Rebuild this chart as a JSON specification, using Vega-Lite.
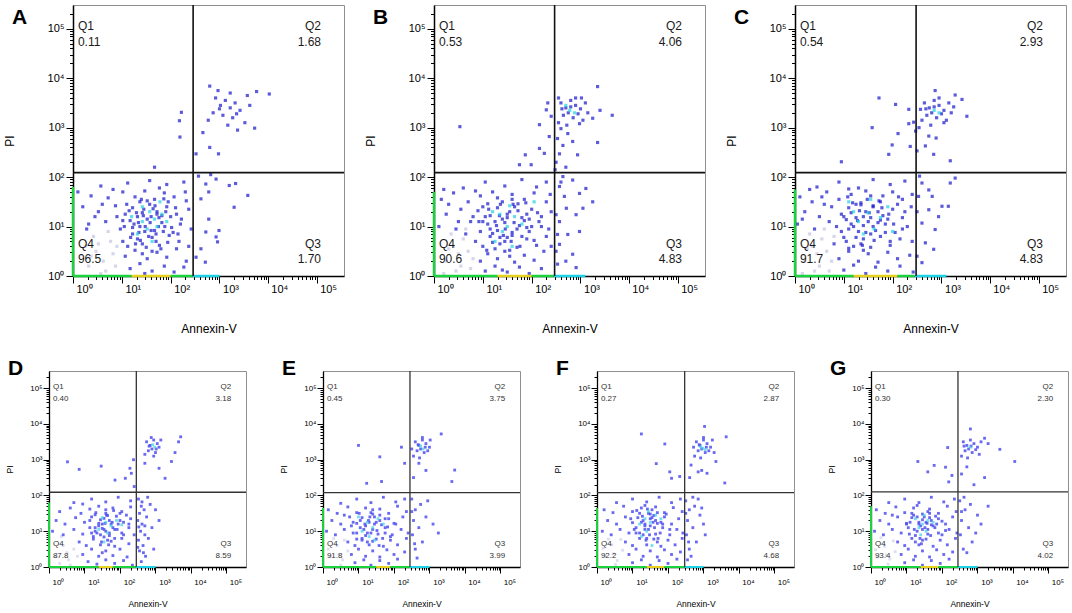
{
"$schema":"https://vega.github.io/schema/vega-lite/v6.json",
"background":"white",
"padding":{"left":-29,"top":-1,"right":2,"bottom":2},
"config":{"view":{"stroke":"#8f8f8f","strokeWidth":1},"font":"Liberation Sans",
"axis":{"grid":false,"domainColor":"#000","tickColor":"#000","labelColor":"#000","titleColor":"#000","titleFontWeight":"normal","labelOverlap":false,"labelFlush":false,"labelBound":false,"labelFont":"Liberation Sans","titleFont":"Liberation Sans"},
"title":{"font":"Liberation Sans"},"text":{"font":"Liberation Sans"}},
"datasets":{
"gate":[{"p":"A","x":2.46,"y":2.09},{"p":"B","x":2.47,"y":2.09},{"p":"C","x":2.48,"y":2.09},{"p":"D","x":2.46,"y":2.09},{"p":"E","x":2.45,"y":2.08},{"p":"F","x":2.47,"y":2.08},{"p":"G","x":2.45,"y":2.1}],
"quad":[
{"p":"A","q":"Q1","t":"Q1\n0.11"},{"p":"A","q":"Q2","t":"Q2\n1.68"},{"p":"A","q":"Q3","t":"Q3\n1.70"},{"p":"A","q":"Q4","t":"Q4\n96.5"},
{"p":"B","q":"Q1","t":"Q1\n0.53"},{"p":"B","q":"Q2","t":"Q2\n4.06"},{"p":"B","q":"Q3","t":"Q3\n4.83"},{"p":"B","q":"Q4","t":"Q4\n90.6"},
{"p":"C","q":"Q1","t":"Q1\n0.54"},{"p":"C","q":"Q2","t":"Q2\n2.93"},{"p":"C","q":"Q3","t":"Q3\n4.83"},{"p":"C","q":"Q4","t":"Q4\n91.7"},
{"p":"D","q":"Q1","t":"Q1\n0.40"},{"p":"D","q":"Q2","t":"Q2\n3.18"},{"p":"D","q":"Q3","t":"Q3\n8.59"},{"p":"D","q":"Q4","t":"Q4\n87.8"},
{"p":"E","q":"Q1","t":"Q1\n0.45"},{"p":"E","q":"Q2","t":"Q2\n3.75"},{"p":"E","q":"Q3","t":"Q3\n3.99"},{"p":"E","q":"Q4","t":"Q4\n91.8"},
{"p":"F","q":"Q1","t":"Q1\n0.27"},{"p":"F","q":"Q2","t":"Q2\n2.87"},{"p":"F","q":"Q3","t":"Q3\n4.68"},{"p":"F","q":"Q4","t":"Q4\n92.2"},
{"p":"G","q":"Q1","t":"Q1\n0.30"},{"p":"G","q":"Q2","t":"Q2\n2.30"},{"p":"G","q":"Q3","t":"Q3\n4.02"},{"p":"G","q":"Q4","t":"Q4\n93.4"}],
"pile":[
{"p":"A","x":0,"x2":1.2,"y":0,"y2":0,"c":"g"},{"p":"A","x":1.2,"x2":2.0,"y":0,"y2":0,"c":"y"},{"p":"A","x":2.0,"x2":2.45,"y":0,"y2":0,"c":"g"},{"p":"A","x":2.45,"x2":3.0,"y":0,"y2":0,"c":"c"},{"p":"A","x":0,"x2":0,"y":0,"y2":1.8,"c":"g"},
{"p":"B","x":0,"x2":1.3,"y":0,"y2":0,"c":"g"},{"p":"B","x":1.3,"x2":2.0,"y":0,"y2":0,"c":"y"},{"p":"B","x":2.0,"x2":2.45,"y":0,"y2":0,"c":"g"},{"p":"B","x":2.45,"x2":3.1,"y":0,"y2":0,"c":"c"},{"p":"B","x":0,"x2":0,"y":0,"y2":1.7,"c":"g"},
{"p":"C","x":0,"x2":1.2,"y":0,"y2":0,"c":"g"},{"p":"C","x":1.2,"x2":2.1,"y":0,"y2":0,"c":"y"},{"p":"C","x":2.1,"x2":2.45,"y":0,"y2":0,"c":"g"},{"p":"C","x":2.45,"x2":3.1,"y":0,"y2":0,"c":"c"},{"p":"C","x":0,"x2":0,"y":0,"y2":1.75,"c":"g"},
{"p":"D","x":0,"x2":1.4,"y":0,"y2":0,"c":"g"},{"p":"D","x":1.4,"x2":1.8,"y":0,"y2":0,"c":"y"},{"p":"D","x":1.8,"x2":2.45,"y":0,"y2":0,"c":"g"},{"p":"D","x":2.45,"x2":3.0,"y":0,"y2":0,"c":"c"},{"p":"D","x":0,"x2":0,"y":0,"y2":1.8,"c":"g"},
{"p":"E","x":0,"x2":1.5,"y":0,"y2":0,"c":"g"},{"p":"E","x":1.5,"x2":1.9,"y":0,"y2":0,"c":"y"},{"p":"E","x":1.9,"x2":2.45,"y":0,"y2":0,"c":"g"},{"p":"E","x":2.45,"x2":3.0,"y":0,"y2":0,"c":"c"},{"p":"E","x":0,"x2":0,"y":0,"y2":1.65,"c":"g"},
{"p":"F","x":0,"x2":1.4,"y":0,"y2":0,"c":"g"},{"p":"F","x":1.4,"x2":1.9,"y":0,"y2":0,"c":"y"},{"p":"F","x":1.9,"x2":2.47,"y":0,"y2":0,"c":"g"},{"p":"F","x":2.47,"x2":3.0,"y":0,"y2":0,"c":"c"},{"p":"F","x":0,"x2":0,"y":0,"y2":1.65,"c":"g"},
{"p":"G","x":0,"x2":1.4,"y":0,"y2":0,"c":"g"},{"p":"G","x":1.4,"x2":1.9,"y":0,"y2":0,"c":"y"},{"p":"G","x":1.9,"x2":2.45,"y":0,"y2":0,"c":"g"},{"p":"G","x":2.45,"x2":3.0,"y":0,"y2":0,"c":"c"},{"p":"G","x":0,"x2":0,"y":0,"y2":1.7,"c":"g"}],
"faint":[
{"p":"A","x":0.32,"y":0.2},{"p":"A","x":0.47,"y":0.5},{"p":"A","x":0.62,"y":0.3},{"p":"A","x":0.77,"y":0.7},{"p":"A","x":0.42,"y":0.8},{"p":"A","x":0.67,"y":0.1},{"p":"A","x":0.82,"y":0.45},{"p":"A","x":0.52,"y":0.65},{"p":"A","x":0.72,"y":0.9},{"p":"A","x":0.37,"y":0.4},{"p":"A","x":0.87,"y":0.2},{"p":"A","x":0.57,"y":0.05},{"p":"A","x":0.25,"y":0.6},{"p":"A","x":0.9,"y":0.6},
{"p":"B","x":0.25,"y":0.3},{"p":"B","x":0.4,"y":0.6},{"p":"B","x":0.55,"y":0.2},{"p":"B","x":0.7,"y":0.5},{"p":"B","x":0.35,"y":0.85},{"p":"B","x":0.6,"y":0.75},{"p":"B","x":0.8,"y":0.35},{"p":"B","x":0.45,"y":0.1},{"p":"B","x":0.3,"y":0.55},{"p":"B","x":0.75,"y":0.15},{"p":"B","x":0.5,"y":0.45},{"p":"B","x":0.65,"y":0.95},{"p":"B","x":0.2,"y":0.05},
{"p":"C","x":0.2,"y":0.3},{"p":"C","x":0.35,"y":0.6},{"p":"C","x":0.5,"y":0.2},{"p":"C","x":0.65,"y":0.5},{"p":"C","x":0.3,"y":0.85},{"p":"C","x":0.55,"y":0.75},{"p":"C","x":0.75,"y":0.3},{"p":"C","x":0.4,"y":0.1},{"p":"C","x":0.25,"y":0.55},{"p":"C","x":0.7,"y":0.1},{"p":"C","x":0.45,"y":0.45},{"p":"C","x":0.6,"y":0.95},{"p":"C","x":0.15,"y":0.05},{"p":"C","x":0.8,"y":0.8},
{"p":"D","x":0.2,"y":0.3},{"p":"D","x":0.4,"y":0.6},{"p":"D","x":0.55,"y":0.2},{"p":"D","x":0.7,"y":0.5},{"p":"D","x":0.35,"y":0.85},{"p":"D","x":0.6,"y":0.05},{"p":"D","x":0.8,"y":0.3},{"p":"D","x":0.3,"y":0.1},{"p":"D","x":0.5,"y":0.4},
{"p":"E","x":0.2,"y":0.3},{"p":"E","x":0.4,"y":0.6},{"p":"E","x":0.55,"y":0.2},{"p":"E","x":0.7,"y":0.45},{"p":"E","x":0.3,"y":0.8},{"p":"E","x":0.5,"y":0.05},{"p":"E","x":0.15,"y":0.5},{"p":"E","x":0.45,"y":0.35},{"p":"E","x":0.6,"y":0.75},
{"p":"F","x":0.22,"y":0.32},{"p":"F","x":0.42,"y":0.62},{"p":"F","x":0.57,"y":0.18},{"p":"F","x":0.72,"y":0.47},{"p":"F","x":0.32,"y":0.78},{"p":"F","x":0.52,"y":0.07},{"p":"F","x":0.17,"y":0.52},{"p":"F","x":0.47,"y":0.37},{"p":"F","x":0.67,"y":0.77},
{"p":"G","x":0.18,"y":0.28},{"p":"G","x":0.38,"y":0.58},{"p":"G","x":0.53,"y":0.22},{"p":"G","x":0.68,"y":0.43},{"p":"G","x":0.28,"y":0.82},{"p":"G","x":0.48,"y":0.08},{"p":"G","x":0.13,"y":0.48},{"p":"G","x":0.43,"y":0.33},{"p":"G","x":0.63,"y":0.73}],
"hot":[
{"p":"A","x":1.42,"y":1.1},{"p":"A","x":1.57,"y":1.3},{"p":"A","x":1.72,"y":1.0},{"p":"A","x":1.32,"y":0.85},{"p":"A","x":1.62,"y":0.7},{"p":"A","x":1.82,"y":1.25},{"p":"A","x":1.52,"y":0.95},{"p":"A","x":1.92,"y":1.1},{"p":"A","x":1.42,"y":1.4},{"p":"A","x":1.67,"y":1.15},{"p":"A","x":1.2,"y":1.2},{"p":"A","x":1.78,"y":1.5},
{"p":"B","x":1.35,"y":1.25},{"p":"B","x":1.5,"y":1.0},{"p":"B","x":1.65,"y":1.2},{"p":"B","x":1.2,"y":1.3},{"p":"B","x":1.4,"y":0.9},{"p":"B","x":1.8,"y":1.05},{"p":"B","x":1.55,"y":1.42},{"p":"B","x":1.25,"y":0.7},{"p":"B","x":2.05,"y":1.5},{"p":"B","x":1.6,"y":0.6},{"p":"B","x":2.78,"y":3.35},{"p":"B","x":2.88,"y":3.3},{"p":"B","x":2.7,"y":3.45},
{"p":"C","x":1.3,"y":1.1},{"p":"C","x":1.5,"y":1.28},{"p":"C","x":1.62,"y":0.95},{"p":"C","x":1.2,"y":1.3},{"p":"C","x":1.75,"y":1.18},{"p":"C","x":1.4,"y":0.85},{"p":"C","x":1.1,"y":1.5},{"p":"C","x":1.9,"y":1.4},{"p":"C","x":1.55,"y":1.55},{"p":"C","x":2.0,"y":0.9},{"p":"C","x":2.85,"y":3.35},{"p":"C","x":2.95,"y":3.3},
{"p":"D","x":1.6,"y":1.25},{"p":"D","x":1.75,"y":1.15},{"p":"D","x":1.5,"y":1.38},{"p":"D","x":1.9,"y":1.3},{"p":"D","x":1.65,"y":0.95},{"p":"D","x":1.4,"y":1.05},{"p":"D","x":2.05,"y":1.18},{"p":"D","x":1.55,"y":0.7},{"p":"D","x":2.92,"y":3.42},{"p":"D","x":2.98,"y":3.35},
{"p":"E","x":1.25,"y":1.25},{"p":"E","x":1.4,"y":1.1},{"p":"E","x":1.1,"y":1.0},{"p":"E","x":1.55,"y":1.35},{"p":"E","x":1.3,"y":0.85},{"p":"E","x":1.7,"y":1.2},{"p":"E","x":1.0,"y":1.4},{"p":"E","x":1.45,"y":0.75},{"p":"E","x":2.75,"y":3.38},{"p":"E","x":2.82,"y":3.3},
{"p":"F","x":1.35,"y":1.35},{"p":"F","x":1.5,"y":1.25},{"p":"F","x":1.2,"y":1.2},{"p":"F","x":1.65,"y":1.45},{"p":"F","x":1.4,"y":1.0},{"p":"F","x":1.8,"y":1.35},{"p":"F","x":1.25,"y":0.85},{"p":"F","x":1.55,"y":0.6},{"p":"F","x":1.45,"y":1.55},{"p":"F","x":2.98,"y":3.32},{"p":"F","x":3.05,"y":3.28},{"p":"F","x":2.92,"y":3.36},
{"p":"G","x":1.45,"y":1.2},{"p":"G","x":1.6,"y":1.3},{"p":"G","x":1.35,"y":1.1},{"p":"G","x":1.55,"y":1.0},{"p":"G","x":1.75,"y":1.25},{"p":"G","x":1.25,"y":1.35},{"p":"G","x":1.5,"y":1.45},{"p":"G","x":1.4,"y":0.9},{"p":"G","x":2.8,"y":3.35}],
"blue":[
{"p":"A","x":0.57,"y":1.82},{"p":"A","x":1.12,"y":1.88},{"p":"A","x":1.57,"y":1.93},{"p":"A","x":1.92,"y":1.85},{"p":"A","x":2.27,"y":1.9},{"p":"A","x":1.77,"y":1.78},{"p":"A","x":0.82,"y":1.75},
{"p":"A","x":0.37,"y":1.62},{"p":"A","x":0.72,"y":1.58},{"p":"A","x":1.02,"y":1.7},{"p":"A","x":1.27,"y":1.6},{"p":"A","x":1.47,"y":1.72},{"p":"A","x":1.67,"y":1.55},{"p":"A","x":1.87,"y":1.68},{"p":"A","x":2.07,"y":1.6},{"p":"A","x":2.32,"y":1.52},{"p":"A","x":1.37,"y":1.5},
{"p":"A","x":0.52,"y":1.3},{"p":"A","x":0.87,"y":1.42},{"p":"A","x":1.07,"y":1.25},{"p":"A","x":1.22,"y":1.38},{"p":"A","x":1.42,"y":1.28},{"p":"A","x":1.57,"y":1.45},{"p":"A","x":1.72,"y":1.3},{"p":"A","x":1.92,"y":1.4},{"p":"A","x":2.12,"y":1.25},{"p":"A","x":2.37,"y":1.35},{"p":"A","x":1.32,"y":1.2},{"p":"A","x":1.82,"y":1.22},
{"p":"A","x":0.32,"y":1.05},{"p":"A","x":0.67,"y":1.1},{"p":"A","x":0.97,"y":0.95},{"p":"A","x":1.17,"y":1.12},{"p":"A","x":1.37,"y":1.0},{"p":"A","x":1.52,"y":1.15},{"p":"A","x":1.67,"y":0.92},{"p":"A","x":1.82,"y":1.08},{"p":"A","x":2.02,"y":0.98},{"p":"A","x":2.22,"y":1.15},{"p":"A","x":2.42,"y":0.95},{"p":"A","x":1.47,"y":0.9},
{"p":"A","x":1.02,"y":0.7},{"p":"A","x":1.22,"y":0.85},{"p":"A","x":1.42,"y":0.65},{"p":"A","x":1.62,"y":0.78},{"p":"A","x":1.77,"y":0.62},{"p":"A","x":1.97,"y":0.82},{"p":"A","x":2.17,"y":0.7},{"p":"A","x":2.37,"y":0.6},{"p":"A","x":1.32,"y":0.75},{"p":"A","x":1.12,"y":0.6},
{"p":"A","x":1.07,"y":0.4},{"p":"A","x":1.27,"y":0.52},{"p":"A","x":1.52,"y":0.35},{"p":"A","x":1.72,"y":0.48},{"p":"A","x":1.92,"y":0.38},{"p":"A","x":2.12,"y":0.55},{"p":"A","x":2.32,"y":0.3},{"p":"A","x":1.42,"y":0.45},
{"p":"A","x":1.17,"y":0.15},{"p":"A","x":1.37,"y":0.25},{"p":"A","x":1.62,"y":0.1},{"p":"A","x":1.87,"y":0.2},{"p":"A","x":2.07,"y":0.08},{"p":"A","x":2.27,"y":0.18},{"p":"A","x":1.47,"y":0.05},
{"p":"A","x":1.25,"y":1.05},{"p":"A","x":1.45,"y":1.35},{"p":"A","x":1.6,"y":1.2},{"p":"A","x":1.75,"y":1.0},{"p":"A","x":1.9,"y":1.3},{"p":"A","x":1.55,"y":0.8},{"p":"A","x":1.35,"y":0.88},{"p":"A","x":1.15,"y":1.32},{"p":"A","x":1.68,"y":1.42},{"p":"A","x":1.85,"y":0.9},{"p":"A","x":2.0,"y":1.2},{"p":"A","x":1.4,"y":1.55},{"p":"A","x":1.05,"y":1.0},{"p":"A","x":1.7,"y":0.7},{"p":"A","x":1.28,"y":0.65},{"p":"A","x":2.2,"y":1.05},{"p":"A","x":1.95,"y":1.5},{"p":"A","x":0.9,"y":1.2},{"p":"A","x":2.3,"y":1.7},{"p":"A","x":0.6,"y":1.45},{"p":"A","x":0.45,"y":1.2},{"p":"A","x":0.2,"y":1.4},{"p":"A","x":0.1,"y":1.7},{"p":"A","x":0.28,"y":0.95},
{"p":"A","x":1.1,"y":1.45},{"p":"A","x":1.22,"y":0.98},{"p":"A","x":1.3,"y":1.28},{"p":"A","x":1.38,"y":0.72},{"p":"A","x":1.44,"y":1.22},{"p":"A","x":1.5,"y":0.58},{"p":"A","x":1.58,"y":1.08},{"p":"A","x":1.64,"y":1.36},{"p":"A","x":1.7,"y":0.85},{"p":"A","x":1.76,"y":1.18},{"p":"A","x":1.8,"y":0.55},{"p":"A","x":1.88,"y":1.0},{"p":"A","x":1.94,"y":0.68},{"p":"A","x":2.05,"y":0.88},{"p":"A","x":2.1,"y":1.38},{"p":"A","x":1.18,"y":0.78},{"p":"A","x":1.52,"y":1.52},{"p":"A","x":1.62,"y":0.5},{"p":"A","x":1.34,"y":1.08},{"p":"A","x":1.86,"y":1.56},{"p":"A","x":1.02,"y":1.12},{"p":"A","x":2.15,"y":0.85},{"p":"A","x":1.48,"y":1.0},{"p":"A","x":1.72,"y":1.25},{"p":"A","x":1.6,"y":0.92},
{"p":"A","x":2.8,"y":3.84},{"p":"A","x":2.92,"y":3.6},{"p":"A","x":3.02,"y":3.45},{"p":"A","x":3.12,"y":3.55},{"p":"A","x":3.22,"y":3.4},{"p":"A","x":3.32,"y":3.5},{"p":"A","x":2.87,"y":3.3},{"p":"A","x":3.07,"y":3.25},{"p":"A","x":3.27,"y":3.2},{"p":"A","x":3.42,"y":3.35},{"p":"A","x":3.17,"y":3.05},{"p":"A","x":3.52,"y":3.1},{"p":"A","x":2.77,"y":3.15},{"p":"A","x":3.62,"y":3.45},{"p":"A","x":3.76,"y":3.73},{"p":"A","x":4.02,"y":3.68},{"p":"A","x":3.72,"y":2.99},{"p":"A","x":3.37,"y":2.95},{"p":"A","x":2.66,"y":2.9},{"p":"A","x":2.8,"y":2.6},{"p":"A","x":2.98,"y":2.47},{"p":"A","x":2.52,"y":2.47},{"p":"A","x":3.57,"y":3.65},{"p":"A","x":2.97,"y":3.75},{"p":"A","x":3.22,"y":3.7},{"p":"A","x":3.0,"y":3.38},{"p":"A","x":3.35,"y":3.28},
{"p":"A","x":2.22,"y":3.31},{"p":"A","x":2.18,"y":3.14},{"p":"A","x":2.19,"y":2.81},{"p":"A","x":1.67,"y":2.2},
{"p":"A","x":2.62,"y":1.56},{"p":"A","x":2.72,"y":1.86},{"p":"A","x":2.93,"y":1.96},{"p":"A","x":3.2,"y":1.83},{"p":"A","x":3.33,"y":1.87},{"p":"A","x":3.58,"y":1.63},{"p":"A","x":3.3,"y":1.39},{"p":"A","x":2.78,"y":1.15},{"p":"A","x":2.99,"y":0.92},{"p":"A","x":2.72,"y":0.89},{"p":"A","x":2.93,"y":0.79},{"p":"A","x":2.62,"y":0.55},{"p":"A","x":2.71,"y":0.28},{"p":"A","x":2.52,"y":0.38},{"p":"A","x":2.96,"y":0.69},{"p":"A","x":2.78,"y":1.7},{"p":"A","x":2.57,"y":2.02},{"p":"A","x":2.82,"y":2.05},
{"p":"B","x":0.6,"y":1.78},{"p":"B","x":1.05,"y":1.9},{"p":"B","x":1.45,"y":1.82},{"p":"B","x":1.8,"y":1.95},{"p":"B","x":2.1,"y":1.8},{"p":"B","x":2.3,"y":1.9},{"p":"B","x":0.85,"y":1.72},
{"p":"B","x":0.15,"y":1.55},{"p":"B","x":0.4,"y":1.68},{"p":"B","x":0.7,"y":1.5},{"p":"B","x":0.95,"y":1.62},{"p":"B","x":1.2,"y":1.7},{"p":"B","x":1.4,"y":1.5},{"p":"B","x":1.6,"y":1.65},{"p":"B","x":1.85,"y":1.55},{"p":"B","x":2.05,"y":1.68},{"p":"B","x":2.3,"y":1.5},{"p":"B","x":1.1,"y":1.46},{"p":"B","x":1.72,"y":1.46},
{"p":"B","x":0.25,"y":1.25},{"p":"B","x":0.55,"y":1.35},{"p":"B","x":0.8,"y":1.2},{"p":"B","x":1.0,"y":1.4},{"p":"B","x":1.15,"y":1.22},{"p":"B","x":1.3,"y":1.38},{"p":"B","x":1.5,"y":1.25},{"p":"B","x":1.65,"y":1.4},{"p":"B","x":1.8,"y":1.18},{"p":"B","x":2.0,"y":1.35},{"p":"B","x":2.2,"y":1.2},{"p":"B","x":2.4,"y":1.3},{"p":"B","x":1.4,"y":1.15},{"p":"B","x":0.9,"y":1.32},
{"p":"B","x":0.1,"y":1.0},{"p":"B","x":0.45,"y":0.95},{"p":"B","x":0.75,"y":1.1},{"p":"B","x":0.95,"y":0.9},{"p":"B","x":1.1,"y":1.05},{"p":"B","x":1.3,"y":0.92},{"p":"B","x":1.45,"y":1.08},{"p":"B","x":1.6,"y":0.88},{"p":"B","x":1.75,"y":1.02},{"p":"B","x":1.95,"y":0.9},{"p":"B","x":2.15,"y":1.1},{"p":"B","x":2.35,"y":0.95},{"p":"B","x":1.2,"y":0.86},{"p":"B","x":1.85,"y":1.12},
{"p":"B","x":0.85,"y":0.7},{"p":"B","x":1.0,"y":0.6},{"p":"B","x":1.15,"y":0.8},{"p":"B","x":1.35,"y":0.65},{"p":"B","x":1.5,"y":0.78},{"p":"B","x":1.7,"y":0.58},{"p":"B","x":1.9,"y":0.75},{"p":"B","x":2.1,"y":0.62},{"p":"B","x":2.3,"y":0.8},{"p":"B","x":1.25,"y":0.55},{"p":"B","x":1.6,"y":0.82},
{"p":"B","x":0.95,"y":0.3},{"p":"B","x":1.1,"y":0.45},{"p":"B","x":1.3,"y":0.35},{"p":"B","x":1.45,"y":0.5},{"p":"B","x":1.65,"y":0.28},{"p":"B","x":1.85,"y":0.42},{"p":"B","x":2.05,"y":0.32},{"p":"B","x":2.25,"y":0.5},{"p":"B","x":1.55,"y":0.4},
{"p":"B","x":1.05,"y":0.1},{"p":"B","x":1.25,"y":0.2},{"p":"B","x":1.5,"y":0.08},{"p":"B","x":1.75,"y":0.18},{"p":"B","x":1.95,"y":0.05},{"p":"B","x":2.2,"y":0.15},{"p":"B","x":1.4,"y":0.12},
{"p":"B","x":1.25,"y":1.1},{"p":"B","x":1.55,"y":1.3},{"p":"B","x":1.7,"y":0.95},{"p":"B","x":1.35,"y":0.78},{"p":"B","x":1.05,"y":1.2},{"p":"B","x":1.9,"y":1.25},{"p":"B","x":1.45,"y":0.7},{"p":"B","x":1.6,"y":1.55},{"p":"B","x":2.0,"y":1.0},{"p":"B","x":1.15,"y":0.95},{"p":"B","x":0.65,"y":0.85},{"p":"B","x":0.3,"y":1.45},{"p":"B","x":0.5,"y":1.1},{"p":"B","x":2.38,"y":1.65},{"p":"B","x":2.4,"y":0.6},{"p":"B","x":0.2,"y":1.75},
{"p":"B","x":1.0,"y":1.1},{"p":"B","x":1.12,"y":1.35},{"p":"B","x":1.2,"y":0.68},{"p":"B","x":1.28,"y":1.02},{"p":"B","x":1.36,"y":1.45},{"p":"B","x":1.42,"y":0.82},{"p":"B","x":1.5,"y":1.18},{"p":"B","x":1.58,"y":0.7},{"p":"B","x":1.64,"y":1.08},{"p":"B","x":1.72,"y":1.32},{"p":"B","x":1.8,"y":0.8},{"p":"B","x":1.88,"y":1.48},{"p":"B","x":1.95,"y":1.15},{"p":"B","x":2.05,"y":0.72},{"p":"B","x":2.12,"y":1.28},{"p":"B","x":1.08,"y":0.52},{"p":"B","x":1.3,"y":1.58},{"p":"B","x":1.55,"y":0.52},{"p":"B","x":1.62,"y":1.45},{"p":"B","x":1.76,"y":0.6},{"p":"B","x":1.46,"y":0.95},{"p":"B","x":1.34,"y":1.22},{"p":"B","x":1.9,"y":0.98},{"p":"B","x":2.2,"y":1.0},{"p":"B","x":0.92,"y":1.1},
{"p":"B","x":0.53,"y":3.02},{"p":"B","x":1.87,"y":2.45},{"p":"B","x":1.99,"y":2.25},{"p":"B","x":1.75,"y":2.25},{"p":"B","x":2.16,"y":2.58},{"p":"B","x":2.26,"y":2.48},{"p":"B","x":2.36,"y":2.82},{"p":"B","x":2.16,"y":3.06},{"p":"B","x":2.3,"y":3.36},{"p":"B","x":2.33,"y":3.5},{"p":"B","x":2.4,"y":3.23},
{"p":"B","x":2.6,"y":3.5},{"p":"B","x":2.7,"y":3.4},{"p":"B","x":2.8,"y":3.55},{"p":"B","x":2.9,"y":3.45},{"p":"B","x":3.0,"y":3.38},{"p":"B","x":3.1,"y":3.5},{"p":"B","x":2.65,"y":3.25},{"p":"B","x":2.75,"y":3.3},{"p":"B","x":2.85,"y":3.2},{"p":"B","x":2.95,"y":3.28},{"p":"B","x":3.05,"y":3.15},{"p":"B","x":2.55,"y":3.1},{"p":"B","x":2.72,"y":3.05},{"p":"B","x":2.9,"y":3.6},{"p":"B","x":3.15,"y":3.3},{"p":"B","x":2.8,"y":3.42},{"p":"B","x":2.62,"y":3.38},{"p":"B","x":3.02,"y":3.6},{"p":"B","x":2.98,"y":3.08},{"p":"B","x":3.35,"y":3.83},{"p":"B","x":3.65,"y":3.25},{"p":"B","x":3.35,"y":2.7},{"p":"B","x":3.25,"y":3.19},{"p":"B","x":3.4,"y":3.35},{"p":"B","x":2.55,"y":3.6},{"p":"B","x":2.5,"y":2.3},{"p":"B","x":2.57,"y":2.47},{"p":"B","x":2.64,"y":2.64},{"p":"B","x":2.53,"y":2.78},{"p":"B","x":2.74,"y":2.88},{"p":"B","x":2.6,"y":2.98},{"p":"B","x":2.94,"y":2.45},{"p":"B","x":2.84,"y":2.72},{"p":"B","x":2.48,"y":2.15},{"p":"B","x":2.7,"y":2.2},
{"p":"B","x":2.57,"y":1.81},{"p":"B","x":2.84,"y":1.94},{"p":"B","x":2.98,"y":1.67},{"p":"B","x":3.11,"y":1.77},{"p":"B","x":2.71,"y":1.37},{"p":"B","x":2.91,"y":1.24},{"p":"B","x":2.57,"y":1.1},{"p":"B","x":2.74,"y":0.84},{"p":"B","x":2.98,"y":0.9},{"p":"B","x":2.57,"y":0.64},{"p":"B","x":2.84,"y":0.44},{"p":"B","x":2.53,"y":0.24},{"p":"B","x":2.91,"y":0.17},{"p":"B","x":2.67,"y":1.61},{"p":"B","x":2.5,"y":1.24},{"p":"B","x":3.05,"y":1.37},{"p":"B","x":2.64,"y":2.01},{"p":"B","x":3.25,"y":1.5},{"p":"B","x":2.53,"y":0.84},{"p":"B","x":2.7,"y":0.3},{"p":"B","x":2.6,"y":1.9},{"p":"B","x":2.5,"y":0.5},
{"p":"C","x":0.45,"y":1.8},{"p":"C","x":0.9,"y":1.9},{"p":"C","x":1.3,"y":1.78},{"p":"C","x":1.6,"y":1.95},{"p":"C","x":1.95,"y":1.85},{"p":"C","x":2.25,"y":1.92},{"p":"C","x":1.1,"y":1.76},
{"p":"C","x":0.1,"y":1.6},{"p":"C","x":0.35,"y":1.5},{"p":"C","x":0.65,"y":1.7},{"p":"C","x":0.9,"y":1.55},{"p":"C","x":1.15,"y":1.65},{"p":"C","x":1.35,"y":1.48},{"p":"C","x":1.55,"y":1.62},{"p":"C","x":1.75,"y":1.5},{"p":"C","x":2.0,"y":1.7},{"p":"C","x":2.2,"y":1.55},{"p":"C","x":2.4,"y":1.65},{"p":"C","x":1.45,"y":1.72},
{"p":"C","x":0.2,"y":1.3},{"p":"C","x":0.5,"y":1.2},{"p":"C","x":0.75,"y":1.4},{"p":"C","x":0.95,"y":1.25},{"p":"C","x":1.1,"y":1.38},{"p":"C","x":1.25,"y":1.18},{"p":"C","x":1.45,"y":1.3},{"p":"C","x":1.6,"y":1.42},{"p":"C","x":1.8,"y":1.22},{"p":"C","x":2.0,"y":1.35},{"p":"C","x":2.2,"y":1.18},{"p":"C","x":2.38,"y":1.4},{"p":"C","x":1.35,"y":1.44},{"p":"C","x":0.6,"y":1.45},
{"p":"C","x":0.05,"y":1.05},{"p":"C","x":0.4,"y":0.95},{"p":"C","x":0.7,"y":1.1},{"p":"C","x":0.95,"y":0.9},{"p":"C","x":1.15,"y":1.05},{"p":"C","x":1.3,"y":0.9},{"p":"C","x":1.5,"y":1.1},{"p":"C","x":1.65,"y":0.92},{"p":"C","x":1.85,"y":1.05},{"p":"C","x":2.05,"y":0.88},{"p":"C","x":2.3,"y":1.0},{"p":"C","x":1.05,"y":1.14},{"p":"C","x":1.75,"y":1.13},
{"p":"C","x":0.8,"y":0.65},{"p":"C","x":1.0,"y":0.78},{"p":"C","x":1.2,"y":0.6},{"p":"C","x":1.4,"y":0.75},{"p":"C","x":1.55,"y":0.58},{"p":"C","x":1.75,"y":0.8},{"p":"C","x":1.95,"y":0.62},{"p":"C","x":2.15,"y":0.75},{"p":"C","x":2.4,"y":0.7},{"p":"C","x":1.1,"y":0.56},
{"p":"C","x":0.9,"y":0.35},{"p":"C","x":1.1,"y":0.5},{"p":"C","x":1.3,"y":0.3},{"p":"C","x":1.5,"y":0.45},{"p":"C","x":1.7,"y":0.28},{"p":"C","x":1.9,"y":0.48},{"p":"C","x":2.1,"y":0.35},{"p":"C","x":2.35,"y":0.42},{"p":"C","x":1.4,"y":0.52},
{"p":"C","x":1.0,"y":0.12},{"p":"C","x":1.2,"y":0.22},{"p":"C","x":1.45,"y":0.05},{"p":"C","x":1.65,"y":0.18},{"p":"C","x":1.9,"y":0.1},{"p":"C","x":2.15,"y":0.2},{"p":"C","x":2.42,"y":0.08},
{"p":"C","x":1.2,"y":1.0},{"p":"C","x":1.4,"y":1.2},{"p":"C","x":1.55,"y":0.85},{"p":"C","x":1.7,"y":1.3},{"p":"C","x":1.25,"y":1.45},{"p":"C","x":1.9,"y":1.15},{"p":"C","x":1.05,"y":0.7},{"p":"C","x":1.6,"y":1.0},{"p":"C","x":0.85,"y":1.0},{"p":"C","x":2.1,"y":1.45},{"p":"C","x":0.3,"y":1.75},{"p":"C","x":0.55,"y":1.6},{"p":"C","x":0.15,"y":1.15},{"p":"C","x":1.35,"y":0.65},{"p":"C","x":2.25,"y":1.3},{"p":"C","x":1.8,"y":1.62},
{"p":"C","x":1.0,"y":1.2},{"p":"C","x":1.1,"y":0.95},{"p":"C","x":1.18,"y":1.48},{"p":"C","x":1.25,"y":0.78},{"p":"C","x":1.32,"y":1.32},{"p":"C","x":1.4,"y":1.02},{"p":"C","x":1.48,"y":1.55},{"p":"C","x":1.55,"y":1.18},{"p":"C","x":1.62,"y":0.72},{"p":"C","x":1.7,"y":1.08},{"p":"C","x":1.78,"y":1.38},{"p":"C","x":1.85,"y":0.88},{"p":"C","x":1.92,"y":1.25},{"p":"C","x":2.02,"y":1.05},{"p":"C","x":2.12,"y":1.6},{"p":"C","x":1.08,"y":1.6},{"p":"C","x":1.38,"y":0.62},{"p":"C","x":1.6,"y":1.4},{"p":"C","x":1.45,"y":0.88},{"p":"C","x":1.72,"y":1.52},{"p":"C","x":1.28,"y":1.12},{"p":"C","x":1.95,"y":0.7},{"p":"C","x":2.2,"y":0.95},{"p":"C","x":1.52,"y":1.28},{"p":"C","x":1.15,"y":1.28},
{"p":"C","x":1.72,"y":3.6},{"p":"C","x":2.06,"y":3.47},{"p":"C","x":2.33,"y":3.37},{"p":"C","x":1.58,"y":3.0},{"p":"C","x":0.95,"y":2.31},{"p":"C","x":1.92,"y":2.46},{"p":"C","x":1.99,"y":2.65},{"p":"C","x":2.11,"y":2.88},{"p":"C","x":2.36,"y":2.62},{"p":"C","x":2.33,"y":3.08},{"p":"C","x":2.43,"y":3.11},
{"p":"C","x":2.65,"y":3.5},{"p":"C","x":2.75,"y":3.4},{"p":"C","x":2.85,"y":3.55},{"p":"C","x":2.95,"y":3.45},{"p":"C","x":3.05,"y":3.35},{"p":"C","x":3.15,"y":3.5},{"p":"C","x":2.7,"y":3.25},{"p":"C","x":2.8,"y":3.3},{"p":"C","x":2.9,"y":3.2},{"p":"C","x":3.0,"y":3.28},{"p":"C","x":3.1,"y":3.15},{"p":"C","x":2.6,"y":3.15},{"p":"C","x":2.78,"y":3.05},{"p":"C","x":2.95,"y":3.6},{"p":"C","x":3.2,"y":3.3},{"p":"C","x":2.85,"y":3.42},{"p":"C","x":2.68,"y":3.38},{"p":"C","x":3.25,"y":3.42},{"p":"C","x":3.05,"y":3.1},{"p":"C","x":2.87,"y":3.75},{"p":"C","x":3.28,"y":3.66},{"p":"C","x":3.42,"y":3.57},{"p":"C","x":3.52,"y":3.23},{"p":"C","x":2.57,"y":3.37},{"p":"C","x":2.54,"y":3.0},{"p":"C","x":2.74,"y":2.83},{"p":"C","x":2.89,"y":2.79},{"p":"C","x":2.67,"y":2.63},{"p":"C","x":2.84,"y":2.46},{"p":"C","x":3.18,"y":2.33},{"p":"C","x":2.5,"y":2.53},{"p":"C","x":2.47,"y":2.93},
{"p":"C","x":2.6,"y":1.88},{"p":"C","x":2.81,"y":1.61},{"p":"C","x":3.18,"y":1.88},{"p":"C","x":3.28,"y":1.98},{"p":"C","x":2.74,"y":1.34},{"p":"C","x":3.01,"y":1.41},{"p":"C","x":2.6,"y":1.07},{"p":"C","x":2.87,"y":0.94},{"p":"C","x":2.67,"y":0.67},{"p":"C","x":2.53,"y":1.61},{"p":"C","x":2.5,"y":0.4},{"p":"C","x":2.94,"y":1.2},{"p":"C","x":3.14,"y":1.41},{"p":"C","x":2.74,"y":1.74},{"p":"C","x":2.6,"y":0.27},{"p":"C","x":2.84,"y":0.54},{"p":"C","x":2.55,"y":2.02},{"p":"C","x":2.5,"y":1.3},
{"p":"D","x":0.7,"y":1.8},{"p":"D","x":1.2,"y":1.9},{"p":"D","x":1.6,"y":1.82},{"p":"D","x":1.95,"y":1.95},{"p":"D","x":2.3,"y":1.85},{"p":"D","x":0.95,"y":1.76},
{"p":"D","x":0.3,"y":1.55},{"p":"D","x":0.6,"y":1.65},{"p":"D","x":0.9,"y":1.5},{"p":"D","x":1.15,"y":1.62},{"p":"D","x":1.4,"y":1.7},{"p":"D","x":1.6,"y":1.5},{"p":"D","x":1.8,"y":1.65},{"p":"D","x":2.05,"y":1.55},{"p":"D","x":2.3,"y":1.68},{"p":"D","x":1.3,"y":1.46},
{"p":"D","x":0.2,"y":1.3},{"p":"D","x":0.45,"y":1.2},{"p":"D","x":0.75,"y":1.38},{"p":"D","x":1.0,"y":1.25},{"p":"D","x":1.2,"y":1.4},{"p":"D","x":1.4,"y":1.22},{"p":"D","x":1.55,"y":1.36},{"p":"D","x":1.75,"y":1.2},{"p":"D","x":1.9,"y":1.42},{"p":"D","x":2.1,"y":1.25},{"p":"D","x":2.3,"y":1.35},{"p":"D","x":1.65,"y":1.44},
{"p":"D","x":0.1,"y":1.0},{"p":"D","x":0.4,"y":0.9},{"p":"D","x":0.7,"y":1.05},{"p":"D","x":0.95,"y":0.92},{"p":"D","x":1.15,"y":1.1},{"p":"D","x":1.35,"y":0.95},{"p":"D","x":1.5,"y":1.08},{"p":"D","x":1.7,"y":0.88},{"p":"D","x":1.85,"y":1.05},{"p":"D","x":2.05,"y":0.95},{"p":"D","x":2.25,"y":1.1},{"p":"D","x":2.4,"y":0.9},{"p":"D","x":1.6,"y":1.0},
{"p":"D","x":0.85,"y":0.7},{"p":"D","x":1.05,"y":0.6},{"p":"D","x":1.25,"y":0.78},{"p":"D","x":1.45,"y":0.62},{"p":"D","x":1.65,"y":0.75},{"p":"D","x":1.85,"y":0.58},{"p":"D","x":2.05,"y":0.8},{"p":"D","x":2.25,"y":0.65},{"p":"D","x":1.55,"y":0.84},
{"p":"D","x":0.95,"y":0.35},{"p":"D","x":1.2,"y":0.5},{"p":"D","x":1.4,"y":0.3},{"p":"D","x":1.6,"y":0.45},{"p":"D","x":1.8,"y":0.32},{"p":"D","x":2.0,"y":0.5},{"p":"D","x":2.2,"y":0.28},{"p":"D","x":1.5,"y":0.4},
{"p":"D","x":1.1,"y":0.15},{"p":"D","x":1.35,"y":0.08},{"p":"D","x":1.6,"y":0.2},{"p":"D","x":1.85,"y":0.1},{"p":"D","x":2.1,"y":0.18},{"p":"D","x":2.35,"y":0.05},
{"p":"D","x":1.5,"y":1.2},{"p":"D","x":1.7,"y":1.3},{"p":"D","x":1.8,"y":1.1},{"p":"D","x":1.6,"y":1.6},{"p":"D","x":1.45,"y":0.9},{"p":"D","x":1.95,"y":1.2},{"p":"D","x":1.3,"y":1.1},{"p":"D","x":1.75,"y":0.72},{"p":"D","x":2.0,"y":1.5},{"p":"D","x":1.2,"y":0.95},
{"p":"D","x":1.15,"y":1.3},{"p":"D","x":1.25,"y":0.85},{"p":"D","x":1.32,"y":1.52},{"p":"D","x":1.4,"y":1.15},{"p":"D","x":1.48,"y":0.7},{"p":"D","x":1.55,"y":1.05},{"p":"D","x":1.62,"y":1.45},{"p":"D","x":1.7,"y":0.95},{"p":"D","x":1.78,"y":1.25},{"p":"D","x":1.85,"y":0.8},{"p":"D","x":1.92,"y":1.05},{"p":"D","x":2.0,"y":1.3},{"p":"D","x":2.1,"y":0.9},{"p":"D","x":2.18,"y":1.45},{"p":"D","x":1.58,"y":1.22},{"p":"D","x":1.68,"y":0.62},{"p":"D","x":1.82,"y":1.58},{"p":"D","x":1.45,"y":1.32},{"p":"D","x":1.3,"y":1.0},{"p":"D","x":2.25,"y":1.2},
{"p":"D","x":2.52,"y":1.9},{"p":"D","x":2.6,"y":1.7},{"p":"D","x":2.55,"y":1.5},{"p":"D","x":2.68,"y":1.6},{"p":"D","x":2.5,"y":1.3},{"p":"D","x":2.62,"y":1.2},{"p":"D","x":2.75,"y":1.4},{"p":"D","x":2.58,"y":1.0},{"p":"D","x":2.7,"y":0.9},{"p":"D","x":2.52,"y":0.75},{"p":"D","x":2.65,"y":0.6},{"p":"D","x":2.8,"y":0.8},{"p":"D","x":2.55,"y":0.45},{"p":"D","x":2.72,"y":0.3},{"p":"D","x":2.6,"y":0.15},{"p":"D","x":2.9,"y":1.1},{"p":"D","x":2.85,"y":1.75},{"p":"D","x":2.5,"y":0.55},{"p":"D","x":2.78,"y":1.95},{"p":"D","x":2.95,"y":0.5},{"p":"D","x":3.1,"y":1.3},{"p":"D","x":2.62,"y":1.82},{"p":"D","x":2.7,"y":1.15},{"p":"D","x":2.53,"y":1.12},{"p":"D","x":2.66,"y":0.4},{"p":"D","x":3.0,"y":1.6},
{"p":"D","x":2.75,"y":3.5},{"p":"D","x":2.85,"y":3.4},{"p":"D","x":2.95,"y":3.55},{"p":"D","x":3.05,"y":3.45},{"p":"D","x":2.8,"y":3.25},{"p":"D","x":2.9,"y":3.3},{"p":"D","x":3.0,"y":3.2},{"p":"D","x":3.1,"y":3.35},{"p":"D","x":2.7,"y":3.15},{"p":"D","x":2.95,"y":3.1},{"p":"D","x":2.88,"y":3.62},{"p":"D","x":3.15,"y":3.55},{"p":"D","x":2.82,"y":3.38},{"p":"D","x":3.02,"y":3.3},{"p":"D","x":3.71,"y":3.64},{"p":"D","x":3.65,"y":3.5},{"p":"D","x":3.1,"y":2.76},{"p":"D","x":3.27,"y":2.48},{"p":"D","x":2.7,"y":2.9},{"p":"D","x":3.45,"y":2.95},{"p":"D","x":3.55,"y":3.2},
{"p":"D","x":1.47,"y":2.82},{"p":"D","x":0.85,"y":2.73},{"p":"D","x":0.52,"y":2.94},{"p":"D","x":2.15,"y":2.48},{"p":"D","x":2.28,"y":2.76},{"p":"D","x":2.32,"y":2.62},{"p":"D","x":1.86,"y":2.43},{"p":"D","x":2.4,"y":2.25},{"p":"D","x":2.38,"y":3.0},
{"p":"E","x":0.5,"y":1.78},{"p":"E","x":0.95,"y":1.9},{"p":"E","x":1.35,"y":1.8},{"p":"E","x":1.7,"y":1.95},{"p":"E","x":2.05,"y":1.82},{"p":"E","x":2.3,"y":1.9},
{"p":"E","x":0.15,"y":1.6},{"p":"E","x":0.4,"y":1.5},{"p":"E","x":0.7,"y":1.68},{"p":"E","x":0.95,"y":1.52},{"p":"E","x":1.2,"y":1.65},{"p":"E","x":1.4,"y":1.48},{"p":"E","x":1.6,"y":1.62},{"p":"E","x":1.85,"y":1.5},{"p":"E","x":2.1,"y":1.7},{"p":"E","x":2.35,"y":1.55},
{"p":"E","x":0.25,"y":1.3},{"p":"E","x":0.5,"y":1.2},{"p":"E","x":0.75,"y":1.4},{"p":"E","x":0.95,"y":1.22},{"p":"E","x":1.1,"y":1.38},{"p":"E","x":1.3,"y":1.25},{"p":"E","x":1.45,"y":1.4},{"p":"E","x":1.65,"y":1.18},{"p":"E","x":1.85,"y":1.35},{"p":"E","x":2.05,"y":1.2},{"p":"E","x":2.25,"y":1.4},{"p":"E","x":0.6,"y":1.45},
{"p":"E","x":0.1,"y":1.0},{"p":"E","x":0.35,"y":0.9},{"p":"E","x":0.6,"y":1.05},{"p":"E","x":0.85,"y":0.95},{"p":"E","x":1.05,"y":1.1},{"p":"E","x":1.2,"y":0.88},{"p":"E","x":1.4,"y":1.05},{"p":"E","x":1.55,"y":0.92},{"p":"E","x":1.75,"y":1.1},{"p":"E","x":1.95,"y":0.9},{"p":"E","x":2.2,"y":1.05},{"p":"E","x":2.4,"y":0.95},
{"p":"E","x":0.7,"y":0.7},{"p":"E","x":0.9,"y":0.6},{"p":"E","x":1.1,"y":0.8},{"p":"E","x":1.3,"y":0.62},{"p":"E","x":1.5,"y":0.78},{"p":"E","x":1.7,"y":0.58},{"p":"E","x":1.9,"y":0.75},{"p":"E","x":2.1,"y":0.62},{"p":"E","x":2.35,"y":0.8},
{"p":"E","x":0.8,"y":0.35},{"p":"E","x":1.0,"y":0.5},{"p":"E","x":1.2,"y":0.3},{"p":"E","x":1.4,"y":0.45},{"p":"E","x":1.6,"y":0.28},{"p":"E","x":1.8,"y":0.48},{"p":"E","x":2.0,"y":0.35},{"p":"E","x":2.3,"y":0.42},
{"p":"E","x":0.9,"y":0.12},{"p":"E","x":1.15,"y":0.2},{"p":"E","x":1.35,"y":0.05},{"p":"E","x":1.6,"y":0.18},{"p":"E","x":1.85,"y":0.1},{"p":"E","x":2.1,"y":0.22},
{"p":"E","x":1.2,"y":1.15},{"p":"E","x":1.35,"y":0.95},{"p":"E","x":1.05,"y":1.3},{"p":"E","x":1.5,"y":1.25},{"p":"E","x":0.95,"y":0.78},{"p":"E","x":1.6,"y":1.45},{"p":"E","x":1.25,"y":0.7},{"p":"E","x":1.75,"y":0.95},{"p":"E","x":0.8,"y":1.15},{"p":"E","x":1.4,"y":1.6},
{"p":"E","x":0.85,"y":1.25},{"p":"E","x":0.95,"y":0.95},{"p":"E","x":1.02,"y":1.5},{"p":"E","x":1.1,"y":0.75},{"p":"E","x":1.18,"y":1.2},{"p":"E","x":1.25,"y":0.95},{"p":"E","x":1.32,"y":1.4},{"p":"E","x":1.4,"y":0.72},{"p":"E","x":1.45,"y":1.2},{"p":"E","x":1.52,"y":1.02},{"p":"E","x":1.6,"y":1.3},{"p":"E","x":1.68,"y":0.8},{"p":"E","x":1.75,"y":1.35},{"p":"E","x":1.82,"y":1.12},{"p":"E","x":1.9,"y":0.85},{"p":"E","x":2.0,"y":1.22},{"p":"E","x":1.15,"y":1.05},{"p":"E","x":1.35,"y":1.52},{"p":"E","x":1.58,"y":0.6},{"p":"E","x":1.28,"y":1.3},
{"p":"E","x":2.5,"y":1.9},{"p":"E","x":2.6,"y":1.6},{"p":"E","x":2.75,"y":1.75},{"p":"E","x":2.55,"y":1.3},{"p":"E","x":2.7,"y":1.1},{"p":"E","x":2.9,"y":1.4},{"p":"E","x":2.52,"y":0.9},{"p":"E","x":2.8,"y":0.7},{"p":"E","x":2.6,"y":0.5},{"p":"E","x":3.1,"y":1.2},{"p":"E","x":2.65,"y":0.25},{"p":"E","x":3.25,"y":0.95},{"p":"E","x":2.5,"y":1.55},{"p":"E","x":2.95,"y":1.85},{"p":"E","x":2.58,"y":0.65},
{"p":"E","x":2.6,"y":3.5},{"p":"E","x":2.7,"y":3.4},{"p":"E","x":2.8,"y":3.55},{"p":"E","x":2.9,"y":3.45},{"p":"E","x":3.0,"y":3.35},{"p":"E","x":2.65,"y":3.25},{"p":"E","x":2.75,"y":3.3},{"p":"E","x":2.85,"y":3.2},{"p":"E","x":2.95,"y":3.25},{"p":"E","x":2.55,"y":3.1},{"p":"E","x":2.72,"y":3.05},{"p":"E","x":2.8,"y":3.62},{"p":"E","x":3.02,"y":3.55},{"p":"E","x":2.68,"y":3.42},{"p":"E","x":2.88,"y":3.35},{"p":"E","x":2.5,"y":3.3},{"p":"E","x":3.33,"y":3.72},{"p":"E","x":3.71,"y":2.71},{"p":"E","x":3.63,"y":2.39},{"p":"E","x":2.7,"y":2.9},{"p":"E","x":2.9,"y":2.7},{"p":"E","x":2.55,"y":2.5},
{"p":"E","x":1.0,"y":3.4},{"p":"E","x":1.6,"y":3.08},{"p":"E","x":1.23,"y":2.34},{"p":"E","x":1.65,"y":2.39},{"p":"E","x":2.21,"y":3.35},{"p":"E","x":2.3,"y":2.9},
{"p":"F","x":0.55,"y":1.8},{"p":"F","x":1.0,"y":1.9},{"p":"F","x":1.4,"y":1.82},{"p":"F","x":1.75,"y":1.95},{"p":"F","x":2.1,"y":1.8},{"p":"F","x":2.35,"y":1.9},
{"p":"F","x":0.2,"y":1.6},{"p":"F","x":0.45,"y":1.52},{"p":"F","x":0.75,"y":1.7},{"p":"F","x":1.0,"y":1.55},{"p":"F","x":1.25,"y":1.65},{"p":"F","x":1.45,"y":1.5},{"p":"F","x":1.65,"y":1.68},{"p":"F","x":1.9,"y":1.52},{"p":"F","x":2.15,"y":1.66},{"p":"F","x":2.4,"y":1.55},{"p":"F","x":1.35,"y":1.72},
{"p":"F","x":0.3,"y":1.3},{"p":"F","x":0.55,"y":1.2},{"p":"F","x":0.8,"y":1.4},{"p":"F","x":1.0,"y":1.24},{"p":"F","x":1.15,"y":1.38},{"p":"F","x":1.35,"y":1.2},{"p":"F","x":1.5,"y":1.35},{"p":"F","x":1.7,"y":1.22},{"p":"F","x":1.9,"y":1.4},{"p":"F","x":2.1,"y":1.2},{"p":"F","x":2.3,"y":1.35},{"p":"F","x":1.6,"y":1.44},
{"p":"F","x":0.15,"y":1.0},{"p":"F","x":0.4,"y":0.9},{"p":"F","x":0.65,"y":1.05},{"p":"F","x":0.9,"y":0.95},{"p":"F","x":1.1,"y":1.1},{"p":"F","x":1.3,"y":0.9},{"p":"F","x":1.45,"y":1.05},{"p":"F","x":1.65,"y":0.92},{"p":"F","x":1.85,"y":1.1},{"p":"F","x":2.05,"y":0.9},{"p":"F","x":2.25,"y":1.05},{"p":"F","x":2.42,"y":0.95},
{"p":"F","x":0.8,"y":0.7},{"p":"F","x":1.0,"y":0.6},{"p":"F","x":1.2,"y":0.8},{"p":"F","x":1.4,"y":0.62},{"p":"F","x":1.6,"y":0.78},{"p":"F","x":1.8,"y":0.58},{"p":"F","x":2.0,"y":0.75},{"p":"F","x":2.2,"y":0.62},{"p":"F","x":2.4,"y":0.8},
{"p":"F","x":0.9,"y":0.35},{"p":"F","x":1.1,"y":0.5},{"p":"F","x":1.3,"y":0.3},{"p":"F","x":1.5,"y":0.45},{"p":"F","x":1.7,"y":0.28},{"p":"F","x":1.9,"y":0.48},{"p":"F","x":2.1,"y":0.35},{"p":"F","x":2.35,"y":0.42},
{"p":"F","x":1.0,"y":0.12},{"p":"F","x":1.25,"y":0.2},{"p":"F","x":1.5,"y":0.05},{"p":"F","x":1.75,"y":0.18},{"p":"F","x":2.0,"y":0.1},{"p":"F","x":2.25,"y":0.22},
{"p":"F","x":1.3,"y":1.3},{"p":"F","x":1.5,"y":1.15},{"p":"F","x":1.2,"y":1.5},{"p":"F","x":1.65,"y":1.3},{"p":"F","x":1.4,"y":0.8},{"p":"F","x":1.8,"y":1.25},{"p":"F","x":1.1,"y":0.95},{"p":"F","x":1.55,"y":1.6},{"p":"F","x":1.35,"y":1.05},{"p":"F","x":1.7,"y":0.7},
{"p":"F","x":0.95,"y":1.35},{"p":"F","x":1.05,"y":1.05},{"p":"F","x":1.12,"y":1.58},{"p":"F","x":1.2,"y":0.95},{"p":"F","x":1.28,"y":1.42},{"p":"F","x":1.35,"y":1.15},{"p":"F","x":1.42,"y":1.62},{"p":"F","x":1.48,"y":0.9},{"p":"F","x":1.55,"y":1.38},{"p":"F","x":1.62,"y":1.1},{"p":"F","x":1.7,"y":1.52},{"p":"F","x":1.78,"y":0.95},{"p":"F","x":1.85,"y":1.2},{"p":"F","x":1.95,"y":1.48},{"p":"F","x":2.05,"y":1.05},{"p":"F","x":1.38,"y":0.75},{"p":"F","x":1.58,"y":1.25},{"p":"F","x":1.25,"y":1.25},{"p":"F","x":1.72,"y":0.8},{"p":"F","x":1.5,"y":1.48},
{"p":"F","x":2.5,"y":1.85},{"p":"F","x":2.6,"y":1.6},{"p":"F","x":2.75,"y":1.7},{"p":"F","x":2.55,"y":1.3},{"p":"F","x":2.7,"y":1.1},{"p":"F","x":2.9,"y":1.45},{"p":"F","x":2.52,"y":0.9},{"p":"F","x":2.8,"y":0.7},{"p":"F","x":2.6,"y":0.5},{"p":"F","x":3.0,"y":1.2},{"p":"F","x":2.65,"y":0.3},{"p":"F","x":2.85,"y":1.9},{"p":"F","x":2.5,"y":1.5},{"p":"F","x":3.05,"y":0.9},{"p":"F","x":2.58,"y":0.7},{"p":"F","x":2.7,"y":1.95},{"p":"F","x":2.95,"y":1.65},{"p":"F","x":2.55,"y":0.2},
{"p":"F","x":2.8,"y":3.5},{"p":"F","x":2.9,"y":3.4},{"p":"F","x":3.0,"y":3.55},{"p":"F","x":3.1,"y":3.45},{"p":"F","x":3.2,"y":3.35},{"p":"F","x":2.85,"y":3.25},{"p":"F","x":2.95,"y":3.3},{"p":"F","x":3.05,"y":3.2},{"p":"F","x":3.15,"y":3.25},{"p":"F","x":2.75,"y":3.1},{"p":"F","x":2.92,"y":3.05},{"p":"F","x":3.0,"y":3.62},{"p":"F","x":3.25,"y":3.55},{"p":"F","x":2.88,"y":3.42},{"p":"F","x":3.08,"y":3.35},{"p":"F","x":3.3,"y":3.2},{"p":"F","x":2.72,"y":3.35},{"p":"F","x":3.03,"y":3.93},{"p":"F","x":3.64,"y":3.64},{"p":"F","x":2.85,"y":2.66},{"p":"F","x":3.1,"y":2.62},{"p":"F","x":2.61,"y":2.5},{"p":"F","x":2.95,"y":2.7},{"p":"F","x":3.35,"y":2.95},{"p":"F","x":2.65,"y":2.85},{"p":"F","x":3.6,"y":2.35},
{"p":"F","x":1.25,"y":3.72},{"p":"F","x":1.91,"y":3.44},{"p":"F","x":1.67,"y":2.89},{"p":"F","x":2.05,"y":2.66},{"p":"F","x":2.1,"y":2.48},{"p":"F","x":2.33,"y":2.53},
{"p":"G","x":0.5,"y":1.8},{"p":"G","x":0.95,"y":1.9},{"p":"G","x":1.35,"y":1.8},{"p":"G","x":1.7,"y":1.95},{"p":"G","x":2.05,"y":1.82},{"p":"G","x":2.35,"y":1.9},
{"p":"G","x":0.15,"y":1.6},{"p":"G","x":0.4,"y":1.5},{"p":"G","x":0.7,"y":1.68},{"p":"G","x":0.95,"y":1.52},{"p":"G","x":1.2,"y":1.65},{"p":"G","x":1.45,"y":1.48},{"p":"G","x":1.65,"y":1.62},{"p":"G","x":1.9,"y":1.5},{"p":"G","x":2.15,"y":1.7},{"p":"G","x":2.4,"y":1.55},{"p":"G","x":1.3,"y":1.72},
{"p":"G","x":0.25,"y":1.3},{"p":"G","x":0.5,"y":1.2},{"p":"G","x":0.75,"y":1.4},{"p":"G","x":1.0,"y":1.22},{"p":"G","x":1.15,"y":1.38},{"p":"G","x":1.35,"y":1.25},{"p":"G","x":1.5,"y":1.4},{"p":"G","x":1.7,"y":1.18},{"p":"G","x":1.9,"y":1.35},{"p":"G","x":2.1,"y":1.2},{"p":"G","x":2.3,"y":1.4},{"p":"G","x":0.6,"y":1.45},
{"p":"G","x":0.1,"y":1.0},{"p":"G","x":0.35,"y":0.9},{"p":"G","x":0.6,"y":1.05},{"p":"G","x":0.85,"y":0.95},{"p":"G","x":1.05,"y":1.1},{"p":"G","x":1.25,"y":0.88},{"p":"G","x":1.45,"y":1.05},{"p":"G","x":1.6,"y":0.92},{"p":"G","x":1.8,"y":1.1},{"p":"G","x":2.0,"y":0.9},{"p":"G","x":2.2,"y":1.05},{"p":"G","x":2.42,"y":0.95},
{"p":"G","x":0.75,"y":0.7},{"p":"G","x":0.95,"y":0.6},{"p":"G","x":1.15,"y":0.8},{"p":"G","x":1.35,"y":0.62},{"p":"G","x":1.55,"y":0.78},{"p":"G","x":1.75,"y":0.58},{"p":"G","x":1.95,"y":0.75},{"p":"G","x":2.15,"y":0.62},{"p":"G","x":2.38,"y":0.8},
{"p":"G","x":0.85,"y":0.35},{"p":"G","x":1.05,"y":0.5},{"p":"G","x":1.25,"y":0.3},{"p":"G","x":1.45,"y":0.45},{"p":"G","x":1.65,"y":0.28},{"p":"G","x":1.85,"y":0.48},{"p":"G","x":2.05,"y":0.35},{"p":"G","x":2.3,"y":0.42},
{"p":"G","x":0.95,"y":0.12},{"p":"G","x":1.2,"y":0.2},{"p":"G","x":1.45,"y":0.05},{"p":"G","x":1.7,"y":0.18},{"p":"G","x":1.95,"y":0.1},{"p":"G","x":2.2,"y":0.22},
{"p":"G","x":1.4,"y":1.15},{"p":"G","x":1.55,"y":1.25},{"p":"G","x":1.3,"y":1.0},{"p":"G","x":1.7,"y":1.3},{"p":"G","x":1.2,"y":1.45},{"p":"G","x":1.6,"y":1.05},{"p":"G","x":1.45,"y":0.75},{"p":"G","x":1.85,"y":1.2},{"p":"G","x":1.1,"y":1.25},{"p":"G","x":1.65,"y":1.5},
{"p":"G","x":1.0,"y":1.2},{"p":"G","x":1.08,"y":0.92},{"p":"G","x":1.15,"y":1.5},{"p":"G","x":1.22,"y":1.05},{"p":"G","x":1.3,"y":1.4},{"p":"G","x":1.38,"y":0.8},{"p":"G","x":1.45,"y":1.32},{"p":"G","x":1.52,"y":1.1},{"p":"G","x":1.6,"y":1.55},{"p":"G","x":1.68,"y":0.88},{"p":"G","x":1.75,"y":1.15},{"p":"G","x":1.82,"y":1.42},{"p":"G","x":1.9,"y":0.95},{"p":"G","x":2.0,"y":1.28},{"p":"G","x":2.1,"y":1.02},{"p":"G","x":1.42,"y":0.65},{"p":"G","x":1.58,"y":1.22},{"p":"G","x":1.35,"y":1.2},{"p":"G","x":1.65,"y":1.38},{"p":"G","x":1.25,"y":0.7},
{"p":"G","x":2.5,"y":1.85},{"p":"G","x":2.65,"y":1.6},{"p":"G","x":2.8,"y":1.75},{"p":"G","x":2.55,"y":1.3},{"p":"G","x":2.75,"y":1.1},{"p":"G","x":3.0,"y":1.45},{"p":"G","x":2.52,"y":0.9},{"p":"G","x":2.85,"y":0.7},{"p":"G","x":2.6,"y":0.5},{"p":"G","x":3.1,"y":1.2},{"p":"G","x":2.7,"y":0.4},{"p":"G","x":3.3,"y":1.7},{"p":"G","x":2.55,"y":1.55},{"p":"G","x":2.95,"y":0.95},{"p":"G","x":2.62,"y":1.95},
{"p":"G","x":2.6,"y":3.5},{"p":"G","x":2.7,"y":3.4},{"p":"G","x":2.8,"y":3.55},{"p":"G","x":2.9,"y":3.45},{"p":"G","x":3.0,"y":3.35},{"p":"G","x":3.1,"y":3.5},{"p":"G","x":2.65,"y":3.25},{"p":"G","x":2.75,"y":3.3},{"p":"G","x":2.85,"y":3.2},{"p":"G","x":2.95,"y":3.28},{"p":"G","x":3.05,"y":3.15},{"p":"G","x":2.55,"y":3.1},{"p":"G","x":2.72,"y":3.05},{"p":"G","x":3.2,"y":3.6},{"p":"G","x":3.3,"y":3.45},{"p":"G","x":2.82,"y":3.38},{"p":"G","x":2.62,"y":3.38},{"p":"G","x":2.8,"y":3.86},{"p":"G","x":3.63,"y":3.29},{"p":"G","x":4.05,"y":2.95},{"p":"G","x":2.55,"y":2.6},{"p":"G","x":2.7,"y":2.8},{"p":"G","x":3.2,"y":2.5},{"p":"G","x":2.9,"y":2.3},
{"p":"G","x":1.32,"y":2.95},{"p":"G","x":1.78,"y":2.84},{"p":"G","x":2.1,"y":2.79},{"p":"G","x":2.16,"y":3.34},{"p":"G","x":1.6,"y":2.66},{"p":"G","x":2.19,"y":2.38},{"p":"G","x":2.28,"y":2.56}]
},
"spacing":22,
"vconcat":[
{"hconcat":[
{"width":12,"height":1,"view":{"stroke":"transparent"},"data":{"values":[{"s":0}]},"mark":{"type":"text","text":""},"encoding":{}},
{"width":271,"height":271,"title":{"text":"A","anchor":"start","frame":"group","fontSize":21,"fontWeight":"bold","color":"#000","dx":-61,"offset":-41,"baseline":"alphabetic"},
"layer":[
{"data":{"name":"faint"},"transform":[{"filter":"datum.p=='A'"}],"mark":{"type":"square","size":10,"color":"#c4c4e2"},"encoding":{
"x":{"field":"x","type":"quantitative","scale":{"domain":[0,5.55],"nice":false,"zero":false},"axis":{"title":"Annexin-V","values":[0,0.301,0.477,0.602,0.699,0.778,0.845,0.903,0.954,1,1.301,1.477,1.602,1.699,1.778,1.845,1.903,1.954,2,2.301,2.477,2.602,2.699,2.778,2.845,2.903,2.954,3,3.301,3.477,3.602,3.699,3.778,3.845,3.903,3.954,4,4.301,4.477,4.602,4.699,4.778,4.845,4.903,4.954,5],"tickCount":100,"labelExpr":"datum.value % 1 === 0 ? '10' + ['⁰','¹','²','³','⁴','⁵'][datum.value] : ''","labelOverlap":false,"labelFontSize":11,"labelOffset":11,"labelPadding":0,"tickSize":{"condition":{"test":"datum.value % 1 === 0","value":7},"value":3.5},"domainWidth":1.5,"titleFontSize":12,"titlePadding":29}},
"y":{"field":"y","type":"quantitative","scale":{"domain":[0,5.48],"nice":false,"zero":false},"axis":{"title":"PI","values":[0,0.301,0.477,0.602,0.699,0.778,0.845,0.903,0.954,1,1.301,1.477,1.602,1.699,1.778,1.845,1.903,1.954,2,2.301,2.477,2.602,2.699,2.778,2.845,2.903,2.954,3,3.301,3.477,3.602,3.699,3.778,3.845,3.903,3.954,4,4.301,4.477,4.602,4.699,4.778,4.845,4.903,4.954,5,5.301],"tickCount":100,"labelExpr":"datum.value % 1 === 0 ? '10' + ['⁰','¹','²','³','⁴','⁵'][datum.value] : ''","labelOverlap":false,"labelFontSize":11,"labelPadding":2,"tickSize":{"condition":{"test":"datum.value % 1 === 0","value":7},"value":3.5},"domainWidth":1.5,"titleFontSize":12,"titlePadding":31}}}},
{"data":{"name":"blue"},"transform":[{"filter":"datum.p=='A'"}],"mark":{"type":"square","size":10,"color":"#1515cc"},"encoding":{"x":{"field":"x","type":"quantitative"},"y":{"field":"y","type":"quantitative"}}},
{"data":{"name":"hot"},"transform":[{"filter":"datum.p=='A'"}],"mark":{"type":"square","size":10,"color":"#1fd3df"},"encoding":{"x":{"field":"x","type":"quantitative"},"y":{"field":"y","type":"quantitative"}}},
{"data":{"name":"pile"},"transform":[{"filter":"datum.p=='A'"}],"mark":{"type":"rule","strokeWidth":2.5},"encoding":{"x":{"field":"x","type":"quantitative"},"x2":{"field":"x2"},"y":{"field":"y","type":"quantitative"},"y2":{"field":"y2"},"color":{"field":"c","type":"nominal","scale":{"domain":["g","y","c"],"range":["#19d23c","#e6d21e","#1ed2e6"]},"legend":null}}},
{"data":{"name":"gate"},"transform":[{"filter":"datum.p=='A'"}],"mark":{"type":"rule","color":"#111","strokeWidth":1.6},"encoding":{"x":{"field":"x","type":"quantitative"}}},
{"data":{"name":"gate"},"transform":[{"filter":"datum.p=='A'"}],"mark":{"type":"rule","color":"#111","strokeWidth":1.6},"encoding":{"y":{"field":"y","type":"quantitative"}}},
{"data":{"name":"quad"},"transform":[{"filter":"datum.p=='A' && datum.q=='Q1'"}],"mark":{"type":"text","align":"left","baseline":"alphabetic","fontSize":12,"lineHeight":15.5,"lineBreak":"\n","color":"#1a1a1a"},"encoding":{"x":{"datum":0.1},"y":{"datum":4.97},"text":{"field":"t"}}},
{"data":{"name":"quad"},"transform":[{"filter":"datum.p=='A' && datum.q=='Q2'"}],"mark":{"type":"text","align":"right","baseline":"alphabetic","fontSize":12,"lineHeight":15.5,"lineBreak":"\n","color":"#1a1a1a"},"encoding":{"x":{"datum":5.08},"y":{"datum":4.97},"text":{"field":"t"}}},
{"data":{"name":"quad"},"transform":[{"filter":"datum.p=='A' && datum.q=='Q3'"}],"mark":{"type":"text","align":"right","baseline":"alphabetic","fontSize":12,"lineHeight":15.5,"lineBreak":"\n","color":"#1a1a1a"},"encoding":{"x":{"datum":5.08},"y":{"datum":0.57},"text":{"field":"t"}}},
{"data":{"name":"quad"},"transform":[{"filter":"datum.p=='A' && datum.q=='Q4'"}],"mark":{"type":"text","align":"left","baseline":"alphabetic","fontSize":12,"lineHeight":15.5,"lineBreak":"\n","color":"#1a1a1a"},"encoding":{"x":{"datum":0.1},"y":{"datum":0.57},"text":{"field":"t"}}}
]},
{"width":271,"height":271,"title":{"text":"B","anchor":"start","frame":"group","fontSize":21,"fontWeight":"bold","color":"#000","dx":-61,"offset":-41,"baseline":"alphabetic"},
"layer":[
{"data":{"name":"faint"},"transform":[{"filter":"datum.p=='B'"}],"mark":{"type":"square","size":10,"color":"#c4c4e2"},"encoding":{
"x":{"field":"x","type":"quantitative","scale":{"domain":[0,5.55],"nice":false,"zero":false},"axis":{"title":"Annexin-V","values":[0,0.301,0.477,0.602,0.699,0.778,0.845,0.903,0.954,1,1.301,1.477,1.602,1.699,1.778,1.845,1.903,1.954,2,2.301,2.477,2.602,2.699,2.778,2.845,2.903,2.954,3,3.301,3.477,3.602,3.699,3.778,3.845,3.903,3.954,4,4.301,4.477,4.602,4.699,4.778,4.845,4.903,4.954,5],"tickCount":100,"labelExpr":"datum.value % 1 === 0 ? '10' + ['⁰','¹','²','³','⁴','⁵'][datum.value] : ''","labelOverlap":false,"labelFontSize":11,"labelOffset":11,"labelPadding":0,"tickSize":{"condition":{"test":"datum.value % 1 === 0","value":7},"value":3.5},"domainWidth":1.5,"titleFontSize":12,"titlePadding":29}},
"y":{"field":"y","type":"quantitative","scale":{"domain":[0,5.48],"nice":false,"zero":false},"axis":{"title":"PI","values":[0,0.301,0.477,0.602,0.699,0.778,0.845,0.903,0.954,1,1.301,1.477,1.602,1.699,1.778,1.845,1.903,1.954,2,2.301,2.477,2.602,2.699,2.778,2.845,2.903,2.954,3,3.301,3.477,3.602,3.699,3.778,3.845,3.903,3.954,4,4.301,4.477,4.602,4.699,4.778,4.845,4.903,4.954,5,5.301],"tickCount":100,"labelExpr":"datum.value % 1 === 0 ? '10' + ['⁰','¹','²','³','⁴','⁵'][datum.value] : ''","labelOverlap":false,"labelFontSize":11,"labelPadding":2,"tickSize":{"condition":{"test":"datum.value % 1 === 0","value":7},"value":3.5},"domainWidth":1.5,"titleFontSize":12,"titlePadding":31}}}},
{"data":{"name":"blue"},"transform":[{"filter":"datum.p=='B'"}],"mark":{"type":"square","size":10,"color":"#1515cc"},"encoding":{"x":{"field":"x","type":"quantitative"},"y":{"field":"y","type":"quantitative"}}},
{"data":{"name":"hot"},"transform":[{"filter":"datum.p=='B'"}],"mark":{"type":"square","size":10,"color":"#1fd3df"},"encoding":{"x":{"field":"x","type":"quantitative"},"y":{"field":"y","type":"quantitative"}}},
{"data":{"name":"pile"},"transform":[{"filter":"datum.p=='B'"}],"mark":{"type":"rule","strokeWidth":2.5},"encoding":{"x":{"field":"x","type":"quantitative"},"x2":{"field":"x2"},"y":{"field":"y","type":"quantitative"},"y2":{"field":"y2"},"color":{"field":"c","type":"nominal","scale":{"domain":["g","y","c"],"range":["#19d23c","#e6d21e","#1ed2e6"]},"legend":null}}},
{"data":{"name":"gate"},"transform":[{"filter":"datum.p=='B'"}],"mark":{"type":"rule","color":"#111","strokeWidth":1.6},"encoding":{"x":{"field":"x","type":"quantitative"}}},
{"data":{"name":"gate"},"transform":[{"filter":"datum.p=='B'"}],"mark":{"type":"rule","color":"#111","strokeWidth":1.6},"encoding":{"y":{"field":"y","type":"quantitative"}}},
{"data":{"name":"quad"},"transform":[{"filter":"datum.p=='B' && datum.q=='Q1'"}],"mark":{"type":"text","align":"left","baseline":"alphabetic","fontSize":12,"lineHeight":15.5,"lineBreak":"\n","color":"#1a1a1a"},"encoding":{"x":{"datum":0.1},"y":{"datum":4.97},"text":{"field":"t"}}},
{"data":{"name":"quad"},"transform":[{"filter":"datum.p=='B' && datum.q=='Q2'"}],"mark":{"type":"text","align":"right","baseline":"alphabetic","fontSize":12,"lineHeight":15.5,"lineBreak":"\n","color":"#1a1a1a"},"encoding":{"x":{"datum":5.08},"y":{"datum":4.97},"text":{"field":"t"}}},
{"data":{"name":"quad"},"transform":[{"filter":"datum.p=='B' && datum.q=='Q3'"}],"mark":{"type":"text","align":"right","baseline":"alphabetic","fontSize":12,"lineHeight":15.5,"lineBreak":"\n","color":"#1a1a1a"},"encoding":{"x":{"datum":5.08},"y":{"datum":0.57},"text":{"field":"t"}}},
{"data":{"name":"quad"},"transform":[{"filter":"datum.p=='B' && datum.q=='Q4'"}],"mark":{"type":"text","align":"left","baseline":"alphabetic","fontSize":12,"lineHeight":15.5,"lineBreak":"\n","color":"#1a1a1a"},"encoding":{"x":{"datum":0.1},"y":{"datum":0.57},"text":{"field":"t"}}}
]},
{"width":271,"height":271,"title":{"text":"C","anchor":"start","frame":"group","fontSize":21,"fontWeight":"bold","color":"#000","dx":-61,"offset":-41,"baseline":"alphabetic"},
"layer":[
{"data":{"name":"faint"},"transform":[{"filter":"datum.p=='C'"}],"mark":{"type":"square","size":10,"color":"#c4c4e2"},"encoding":{
"x":{"field":"x","type":"quantitative","scale":{"domain":[0,5.55],"nice":false,"zero":false},"axis":{"title":"Annexin-V","values":[0,0.301,0.477,0.602,0.699,0.778,0.845,0.903,0.954,1,1.301,1.477,1.602,1.699,1.778,1.845,1.903,1.954,2,2.301,2.477,2.602,2.699,2.778,2.845,2.903,2.954,3,3.301,3.477,3.602,3.699,3.778,3.845,3.903,3.954,4,4.301,4.477,4.602,4.699,4.778,4.845,4.903,4.954,5],"tickCount":100,"labelExpr":"datum.value % 1 === 0 ? '10' + ['⁰','¹','²','³','⁴','⁵'][datum.value] : ''","labelOverlap":false,"labelFontSize":11,"labelOffset":11,"labelPadding":0,"tickSize":{"condition":{"test":"datum.value % 1 === 0","value":7},"value":3.5},"domainWidth":1.5,"titleFontSize":12,"titlePadding":29}},
"y":{"field":"y","type":"quantitative","scale":{"domain":[0,5.48],"nice":false,"zero":false},"axis":{"title":"PI","values":[0,0.301,0.477,0.602,0.699,0.778,0.845,0.903,0.954,1,1.301,1.477,1.602,1.699,1.778,1.845,1.903,1.954,2,2.301,2.477,2.602,2.699,2.778,2.845,2.903,2.954,3,3.301,3.477,3.602,3.699,3.778,3.845,3.903,3.954,4,4.301,4.477,4.602,4.699,4.778,4.845,4.903,4.954,5,5.301],"tickCount":100,"labelExpr":"datum.value % 1 === 0 ? '10' + ['⁰','¹','²','³','⁴','⁵'][datum.value] : ''","labelOverlap":false,"labelFontSize":11,"labelPadding":2,"tickSize":{"condition":{"test":"datum.value % 1 === 0","value":7},"value":3.5},"domainWidth":1.5,"titleFontSize":12,"titlePadding":31}}}},
{"data":{"name":"blue"},"transform":[{"filter":"datum.p=='C'"}],"mark":{"type":"square","size":10,"color":"#1515cc"},"encoding":{"x":{"field":"x","type":"quantitative"},"y":{"field":"y","type":"quantitative"}}},
{"data":{"name":"hot"},"transform":[{"filter":"datum.p=='C'"}],"mark":{"type":"square","size":10,"color":"#1fd3df"},"encoding":{"x":{"field":"x","type":"quantitative"},"y":{"field":"y","type":"quantitative"}}},
{"data":{"name":"pile"},"transform":[{"filter":"datum.p=='C'"}],"mark":{"type":"rule","strokeWidth":2.5},"encoding":{"x":{"field":"x","type":"quantitative"},"x2":{"field":"x2"},"y":{"field":"y","type":"quantitative"},"y2":{"field":"y2"},"color":{"field":"c","type":"nominal","scale":{"domain":["g","y","c"],"range":["#19d23c","#e6d21e","#1ed2e6"]},"legend":null}}},
{"data":{"name":"gate"},"transform":[{"filter":"datum.p=='C'"}],"mark":{"type":"rule","color":"#111","strokeWidth":1.6},"encoding":{"x":{"field":"x","type":"quantitative"}}},
{"data":{"name":"gate"},"transform":[{"filter":"datum.p=='C'"}],"mark":{"type":"rule","color":"#111","strokeWidth":1.6},"encoding":{"y":{"field":"y","type":"quantitative"}}},
{"data":{"name":"quad"},"transform":[{"filter":"datum.p=='C' && datum.q=='Q1'"}],"mark":{"type":"text","align":"left","baseline":"alphabetic","fontSize":12,"lineHeight":15.5,"lineBreak":"\n","color":"#1a1a1a"},"encoding":{"x":{"datum":0.1},"y":{"datum":4.97},"text":{"field":"t"}}},
{"data":{"name":"quad"},"transform":[{"filter":"datum.p=='C' && datum.q=='Q2'"}],"mark":{"type":"text","align":"right","baseline":"alphabetic","fontSize":12,"lineHeight":15.5,"lineBreak":"\n","color":"#1a1a1a"},"encoding":{"x":{"datum":5.08},"y":{"datum":4.97},"text":{"field":"t"}}},
{"data":{"name":"quad"},"transform":[{"filter":"datum.p=='C' && datum.q=='Q3'"}],"mark":{"type":"text","align":"right","baseline":"alphabetic","fontSize":12,"lineHeight":15.5,"lineBreak":"\n","color":"#1a1a1a"},"encoding":{"x":{"datum":5.08},"y":{"datum":0.57},"text":{"field":"t"}}},
{"data":{"name":"quad"},"transform":[{"filter":"datum.p=='C' && datum.q=='Q4'"}],"mark":{"type":"text","align":"left","baseline":"alphabetic","fontSize":12,"lineHeight":15.5,"lineBreak":"\n","color":"#1a1a1a"},"encoding":{"x":{"datum":0.1},"y":{"datum":0.57},"text":{"field":"t"}}}
]}
],"spacing":17},
{"hconcat":[
{"width":1,"height":1,"view":{"stroke":"transparent"},"data":{"values":[{"s":0}]},"mark":{"type":"text","text":""},"encoding":{}},
{"width":197,"height":196,"title":{"text":"D","anchor":"start","frame":"group","fontSize":21,"fontWeight":"bold","color":"#000","dx":-41,"offset":-26,"baseline":"alphabetic"},
"layer":[
{"data":{"name":"faint"},"transform":[{"filter":"datum.p=='D'"}],"mark":{"type":"square","size":8,"color":"#d0d0ee"},"encoding":{
"x":{"field":"x","type":"quantitative","scale":{"domain":[0,5.55],"nice":false,"zero":false},"axis":{"title":"Annexin-V","values":[0,0.301,0.477,0.602,0.699,0.778,0.845,0.903,0.954,1,1.301,1.477,1.602,1.699,1.778,1.845,1.903,1.954,2,2.301,2.477,2.602,2.699,2.778,2.845,2.903,2.954,3,3.301,3.477,3.602,3.699,3.778,3.845,3.903,3.954,4,4.301,4.477,4.602,4.699,4.778,4.845,4.903,4.954,5],"tickCount":100,"labelExpr":"datum.value % 1 === 0 ? '10' + ['⁰','¹','²','³','⁴','⁵'][datum.value] : ''","labelOverlap":false,"labelFontSize":8,"labelOffset":9,"labelPadding":5,"tickSize":{"condition":{"test":"datum.value % 1 === 0","value":6},"value":3},"domainWidth":1.3,"titleFontSize":8.5,"titlePadding":13}},
"y":{"field":"y","type":"quantitative","scale":{"domain":[0,5.48],"nice":false,"zero":false},"axis":{"title":"PI","values":[0,0.301,0.477,0.602,0.699,0.778,0.845,0.903,0.954,1,1.301,1.477,1.602,1.699,1.778,1.845,1.903,1.954,2,2.301,2.477,2.602,2.699,2.778,2.845,2.903,2.954,3,3.301,3.477,3.602,3.699,3.778,3.845,3.903,3.954,4,4.301,4.477,4.602,4.699,4.778,4.845,4.903,4.954,5,5.301],"tickCount":100,"labelExpr":"datum.value % 1 === 0 ? '10' + ['⁰','¹','²','³','⁴','⁵'][datum.value] : ''","labelOverlap":false,"labelFontSize":8,"labelPadding":1,"tickSize":{"condition":{"test":"datum.value % 1 === 0","value":6},"value":3},"domainWidth":1.3,"titleFontSize":8.5,"titlePadding":15}}}},
{"data":{"name":"blue"},"transform":[{"filter":"datum.p=='D'"}],"mark":{"type":"square","size":8,"color":"#4f4fee","opacity":0.85},"encoding":{"x":{"field":"x","type":"quantitative"},"y":{"field":"y","type":"quantitative"}}},
{"data":{"name":"hot"},"transform":[{"filter":"datum.p=='D'"}],"mark":{"type":"square","size":8,"color":"#3fd0e6"},"encoding":{"x":{"field":"x","type":"quantitative"},"y":{"field":"y","type":"quantitative"}}},
{"data":{"name":"pile"},"transform":[{"filter":"datum.p=='D'"}],"mark":{"type":"rule","strokeWidth":2},"encoding":{"x":{"field":"x","type":"quantitative"},"x2":{"field":"x2"},"y":{"field":"y","type":"quantitative"},"y2":{"field":"y2"},"color":{"field":"c","type":"nominal","scale":{"domain":["g","y","c"],"range":["#2ad04a","#e2cc3a","#3ccbe0"]},"legend":null}}},
{"data":{"name":"gate"},"transform":[{"filter":"datum.p=='D'"}],"mark":{"type":"rule","color":"#333","strokeWidth":1.3},"encoding":{"x":{"field":"x","type":"quantitative"}}},
{"data":{"name":"gate"},"transform":[{"filter":"datum.p=='D'"}],"mark":{"type":"rule","color":"#333","strokeWidth":1.3},"encoding":{"y":{"field":"y","type":"quantitative"}}},
{"data":{"name":"quad"},"transform":[{"filter":"datum.p=='D' && datum.q=='Q1'"}],"mark":{"type":"text","align":"left","baseline":"alphabetic","fontSize":8,"lineHeight":12,"lineBreak":"\n","color":"#333"},"encoding":{"x":{"datum":0.11},"y":{"datum":4.97},"text":{"field":"t"}}},
{"data":{"name":"quad"},"transform":[{"filter":"datum.p=='D' && datum.q=='Q2'"}],"mark":{"type":"text","align":"right","baseline":"alphabetic","fontSize":8,"lineHeight":12,"lineBreak":"\n","color":"#333"},"encoding":{"x":{"datum":5.13},"y":{"datum":4.97},"text":{"field":"t"}}},
{"data":{"name":"quad"},"transform":[{"filter":"datum.p=='D' && datum.q=='Q3'"}],"mark":{"type":"text","align":"right","baseline":"alphabetic","fontSize":8,"lineHeight":12,"lineBreak":"\n","color":"#333"},"encoding":{"x":{"datum":5.13},"y":{"datum":0.59},"text":{"field":"t"}}},
{"data":{"name":"quad"},"transform":[{"filter":"datum.p=='D' && datum.q=='Q4'"}],"mark":{"type":"text","align":"left","baseline":"alphabetic","fontSize":8,"lineHeight":12,"lineBreak":"\n","color":"#333"},"encoding":{"x":{"datum":0.11},"y":{"datum":0.59},"text":{"field":"t"}}}
]},
{"width":197,"height":196,"title":{"text":"E","anchor":"start","frame":"group","fontSize":21,"fontWeight":"bold","color":"#000","dx":-41,"offset":-26,"baseline":"alphabetic"},
"layer":[
{"data":{"name":"faint"},"transform":[{"filter":"datum.p=='E'"}],"mark":{"type":"square","size":8,"color":"#d0d0ee"},"encoding":{
"x":{"field":"x","type":"quantitative","scale":{"domain":[0,5.55],"nice":false,"zero":false},"axis":{"title":"Annexin-V","values":[0,0.301,0.477,0.602,0.699,0.778,0.845,0.903,0.954,1,1.301,1.477,1.602,1.699,1.778,1.845,1.903,1.954,2,2.301,2.477,2.602,2.699,2.778,2.845,2.903,2.954,3,3.301,3.477,3.602,3.699,3.778,3.845,3.903,3.954,4,4.301,4.477,4.602,4.699,4.778,4.845,4.903,4.954,5],"tickCount":100,"labelExpr":"datum.value % 1 === 0 ? '10' + ['⁰','¹','²','³','⁴','⁵'][datum.value] : ''","labelOverlap":false,"labelFontSize":8,"labelOffset":9,"labelPadding":5,"tickSize":{"condition":{"test":"datum.value % 1 === 0","value":6},"value":3},"domainWidth":1.3,"titleFontSize":8.5,"titlePadding":13}},
"y":{"field":"y","type":"quantitative","scale":{"domain":[0,5.48],"nice":false,"zero":false},"axis":{"title":"PI","values":[0,0.301,0.477,0.602,0.699,0.778,0.845,0.903,0.954,1,1.301,1.477,1.602,1.699,1.778,1.845,1.903,1.954,2,2.301,2.477,2.602,2.699,2.778,2.845,2.903,2.954,3,3.301,3.477,3.602,3.699,3.778,3.845,3.903,3.954,4,4.301,4.477,4.602,4.699,4.778,4.845,4.903,4.954,5,5.301],"tickCount":100,"labelExpr":"datum.value % 1 === 0 ? '10' + ['⁰','¹','²','³','⁴','⁵'][datum.value] : ''","labelOverlap":false,"labelFontSize":8,"labelPadding":1,"tickSize":{"condition":{"test":"datum.value % 1 === 0","value":6},"value":3},"domainWidth":1.3,"titleFontSize":8.5,"titlePadding":15}}}},
{"data":{"name":"blue"},"transform":[{"filter":"datum.p=='E'"}],"mark":{"type":"square","size":8,"color":"#4f4fee","opacity":0.85},"encoding":{"x":{"field":"x","type":"quantitative"},"y":{"field":"y","type":"quantitative"}}},
{"data":{"name":"hot"},"transform":[{"filter":"datum.p=='E'"}],"mark":{"type":"square","size":8,"color":"#3fd0e6"},"encoding":{"x":{"field":"x","type":"quantitative"},"y":{"field":"y","type":"quantitative"}}},
{"data":{"name":"pile"},"transform":[{"filter":"datum.p=='E'"}],"mark":{"type":"rule","strokeWidth":2},"encoding":{"x":{"field":"x","type":"quantitative"},"x2":{"field":"x2"},"y":{"field":"y","type":"quantitative"},"y2":{"field":"y2"},"color":{"field":"c","type":"nominal","scale":{"domain":["g","y","c"],"range":["#2ad04a","#e2cc3a","#3ccbe0"]},"legend":null}}},
{"data":{"name":"gate"},"transform":[{"filter":"datum.p=='E'"}],"mark":{"type":"rule","color":"#333","strokeWidth":1.3},"encoding":{"x":{"field":"x","type":"quantitative"}}},
{"data":{"name":"gate"},"transform":[{"filter":"datum.p=='E'"}],"mark":{"type":"rule","color":"#333","strokeWidth":1.3},"encoding":{"y":{"field":"y","type":"quantitative"}}},
{"data":{"name":"quad"},"transform":[{"filter":"datum.p=='E' && datum.q=='Q1'"}],"mark":{"type":"text","align":"left","baseline":"alphabetic","fontSize":8,"lineHeight":12,"lineBreak":"\n","color":"#333"},"encoding":{"x":{"datum":0.11},"y":{"datum":4.97},"text":{"field":"t"}}},
{"data":{"name":"quad"},"transform":[{"filter":"datum.p=='E' && datum.q=='Q2'"}],"mark":{"type":"text","align":"right","baseline":"alphabetic","fontSize":8,"lineHeight":12,"lineBreak":"\n","color":"#333"},"encoding":{"x":{"datum":5.13},"y":{"datum":4.97},"text":{"field":"t"}}},
{"data":{"name":"quad"},"transform":[{"filter":"datum.p=='E' && datum.q=='Q3'"}],"mark":{"type":"text","align":"right","baseline":"alphabetic","fontSize":8,"lineHeight":12,"lineBreak":"\n","color":"#333"},"encoding":{"x":{"datum":5.13},"y":{"datum":0.59},"text":{"field":"t"}}},
{"data":{"name":"quad"},"transform":[{"filter":"datum.p=='E' && datum.q=='Q4'"}],"mark":{"type":"text","align":"left","baseline":"alphabetic","fontSize":8,"lineHeight":12,"lineBreak":"\n","color":"#333"},"encoding":{"x":{"datum":0.11},"y":{"datum":0.59},"text":{"field":"t"}}}
]},
{"width":197,"height":196,"title":{"text":"F","anchor":"start","frame":"group","fontSize":21,"fontWeight":"bold","color":"#000","dx":-41,"offset":-26,"baseline":"alphabetic"},
"layer":[
{"data":{"name":"faint"},"transform":[{"filter":"datum.p=='F'"}],"mark":{"type":"square","size":8,"color":"#d0d0ee"},"encoding":{
"x":{"field":"x","type":"quantitative","scale":{"domain":[0,5.55],"nice":false,"zero":false},"axis":{"title":"Annexin-V","values":[0,0.301,0.477,0.602,0.699,0.778,0.845,0.903,0.954,1,1.301,1.477,1.602,1.699,1.778,1.845,1.903,1.954,2,2.301,2.477,2.602,2.699,2.778,2.845,2.903,2.954,3,3.301,3.477,3.602,3.699,3.778,3.845,3.903,3.954,4,4.301,4.477,4.602,4.699,4.778,4.845,4.903,4.954,5],"tickCount":100,"labelExpr":"datum.value % 1 === 0 ? '10' + ['⁰','¹','²','³','⁴','⁵'][datum.value] : ''","labelOverlap":false,"labelFontSize":8,"labelOffset":9,"labelPadding":5,"tickSize":{"condition":{"test":"datum.value % 1 === 0","value":6},"value":3},"domainWidth":1.3,"titleFontSize":8.5,"titlePadding":13}},
"y":{"field":"y","type":"quantitative","scale":{"domain":[0,5.48],"nice":false,"zero":false},"axis":{"title":"PI","values":[0,0.301,0.477,0.602,0.699,0.778,0.845,0.903,0.954,1,1.301,1.477,1.602,1.699,1.778,1.845,1.903,1.954,2,2.301,2.477,2.602,2.699,2.778,2.845,2.903,2.954,3,3.301,3.477,3.602,3.699,3.778,3.845,3.903,3.954,4,4.301,4.477,4.602,4.699,4.778,4.845,4.903,4.954,5,5.301],"tickCount":100,"labelExpr":"datum.value % 1 === 0 ? '10' + ['⁰','¹','²','³','⁴','⁵'][datum.value] : ''","labelOverlap":false,"labelFontSize":8,"labelPadding":1,"tickSize":{"condition":{"test":"datum.value % 1 === 0","value":6},"value":3},"domainWidth":1.3,"titleFontSize":8.5,"titlePadding":15}}}},
{"data":{"name":"blue"},"transform":[{"filter":"datum.p=='F'"}],"mark":{"type":"square","size":8,"color":"#4f4fee","opacity":0.85},"encoding":{"x":{"field":"x","type":"quantitative"},"y":{"field":"y","type":"quantitative"}}},
{"data":{"name":"hot"},"transform":[{"filter":"datum.p=='F'"}],"mark":{"type":"square","size":8,"color":"#3fd0e6"},"encoding":{"x":{"field":"x","type":"quantitative"},"y":{"field":"y","type":"quantitative"}}},
{"data":{"name":"pile"},"transform":[{"filter":"datum.p=='F'"}],"mark":{"type":"rule","strokeWidth":2},"encoding":{"x":{"field":"x","type":"quantitative"},"x2":{"field":"x2"},"y":{"field":"y","type":"quantitative"},"y2":{"field":"y2"},"color":{"field":"c","type":"nominal","scale":{"domain":["g","y","c"],"range":["#2ad04a","#e2cc3a","#3ccbe0"]},"legend":null}}},
{"data":{"name":"gate"},"transform":[{"filter":"datum.p=='F'"}],"mark":{"type":"rule","color":"#333","strokeWidth":1.3},"encoding":{"x":{"field":"x","type":"quantitative"}}},
{"data":{"name":"gate"},"transform":[{"filter":"datum.p=='F'"}],"mark":{"type":"rule","color":"#333","strokeWidth":1.3},"encoding":{"y":{"field":"y","type":"quantitative"}}},
{"data":{"name":"quad"},"transform":[{"filter":"datum.p=='F' && datum.q=='Q1'"}],"mark":{"type":"text","align":"left","baseline":"alphabetic","fontSize":8,"lineHeight":12,"lineBreak":"\n","color":"#333"},"encoding":{"x":{"datum":0.11},"y":{"datum":4.97},"text":{"field":"t"}}},
{"data":{"name":"quad"},"transform":[{"filter":"datum.p=='F' && datum.q=='Q2'"}],"mark":{"type":"text","align":"right","baseline":"alphabetic","fontSize":8,"lineHeight":12,"lineBreak":"\n","color":"#333"},"encoding":{"x":{"datum":5.13},"y":{"datum":4.97},"text":{"field":"t"}}},
{"data":{"name":"quad"},"transform":[{"filter":"datum.p=='F' && datum.q=='Q3'"}],"mark":{"type":"text","align":"right","baseline":"alphabetic","fontSize":8,"lineHeight":12,"lineBreak":"\n","color":"#333"},"encoding":{"x":{"datum":5.13},"y":{"datum":0.59},"text":{"field":"t"}}},
{"data":{"name":"quad"},"transform":[{"filter":"datum.p=='F' && datum.q=='Q4'"}],"mark":{"type":"text","align":"left","baseline":"alphabetic","fontSize":8,"lineHeight":12,"lineBreak":"\n","color":"#333"},"encoding":{"x":{"datum":0.11},"y":{"datum":0.59},"text":{"field":"t"}}}
]},
{"width":197,"height":196,"title":{"text":"G","anchor":"start","frame":"group","fontSize":21,"fontWeight":"bold","color":"#000","dx":-41,"offset":-26,"baseline":"alphabetic"},
"layer":[
{"data":{"name":"faint"},"transform":[{"filter":"datum.p=='G'"}],"mark":{"type":"square","size":8,"color":"#d0d0ee"},"encoding":{
"x":{"field":"x","type":"quantitative","scale":{"domain":[0,5.55],"nice":false,"zero":false},"axis":{"title":"Annexin-V","values":[0,0.301,0.477,0.602,0.699,0.778,0.845,0.903,0.954,1,1.301,1.477,1.602,1.699,1.778,1.845,1.903,1.954,2,2.301,2.477,2.602,2.699,2.778,2.845,2.903,2.954,3,3.301,3.477,3.602,3.699,3.778,3.845,3.903,3.954,4,4.301,4.477,4.602,4.699,4.778,4.845,4.903,4.954,5],"tickCount":100,"labelExpr":"datum.value % 1 === 0 ? '10' + ['⁰','¹','²','³','⁴','⁵'][datum.value] : ''","labelOverlap":false,"labelFontSize":8,"labelOffset":9,"labelPadding":5,"tickSize":{"condition":{"test":"datum.value % 1 === 0","value":6},"value":3},"domainWidth":1.3,"titleFontSize":8.5,"titlePadding":13}},
"y":{"field":"y","type":"quantitative","scale":{"domain":[0,5.48],"nice":false,"zero":false},"axis":{"title":"PI","values":[0,0.301,0.477,0.602,0.699,0.778,0.845,0.903,0.954,1,1.301,1.477,1.602,1.699,1.778,1.845,1.903,1.954,2,2.301,2.477,2.602,2.699,2.778,2.845,2.903,2.954,3,3.301,3.477,3.602,3.699,3.778,3.845,3.903,3.954,4,4.301,4.477,4.602,4.699,4.778,4.845,4.903,4.954,5,5.301],"tickCount":100,"labelExpr":"datum.value % 1 === 0 ? '10' + ['⁰','¹','²','³','⁴','⁵'][datum.value] : ''","labelOverlap":false,"labelFontSize":8,"labelPadding":1,"tickSize":{"condition":{"test":"datum.value % 1 === 0","value":6},"value":3},"domainWidth":1.3,"titleFontSize":8.5,"titlePadding":15}}}},
{"data":{"name":"blue"},"transform":[{"filter":"datum.p=='G'"}],"mark":{"type":"square","size":8,"color":"#4f4fee","opacity":0.85},"encoding":{"x":{"field":"x","type":"quantitative"},"y":{"field":"y","type":"quantitative"}}},
{"data":{"name":"hot"},"transform":[{"filter":"datum.p=='G'"}],"mark":{"type":"square","size":8,"color":"#3fd0e6"},"encoding":{"x":{"field":"x","type":"quantitative"},"y":{"field":"y","type":"quantitative"}}},
{"data":{"name":"pile"},"transform":[{"filter":"datum.p=='G'"}],"mark":{"type":"rule","strokeWidth":2},"encoding":{"x":{"field":"x","type":"quantitative"},"x2":{"field":"x2"},"y":{"field":"y","type":"quantitative"},"y2":{"field":"y2"},"color":{"field":"c","type":"nominal","scale":{"domain":["g","y","c"],"range":["#2ad04a","#e2cc3a","#3ccbe0"]},"legend":null}}},
{"data":{"name":"gate"},"transform":[{"filter":"datum.p=='G'"}],"mark":{"type":"rule","color":"#333","strokeWidth":1.3},"encoding":{"x":{"field":"x","type":"quantitative"}}},
{"data":{"name":"gate"},"transform":[{"filter":"datum.p=='G'"}],"mark":{"type":"rule","color":"#333","strokeWidth":1.3},"encoding":{"y":{"field":"y","type":"quantitative"}}},
{"data":{"name":"quad"},"transform":[{"filter":"datum.p=='G' && datum.q=='Q1'"}],"mark":{"type":"text","align":"left","baseline":"alphabetic","fontSize":8,"lineHeight":12,"lineBreak":"\n","color":"#333"},"encoding":{"x":{"datum":0.11},"y":{"datum":4.97},"text":{"field":"t"}}},
{"data":{"name":"quad"},"transform":[{"filter":"datum.p=='G' && datum.q=='Q2'"}],"mark":{"type":"text","align":"right","baseline":"alphabetic","fontSize":8,"lineHeight":12,"lineBreak":"\n","color":"#333"},"encoding":{"x":{"datum":5.13},"y":{"datum":4.97},"text":{"field":"t"}}},
{"data":{"name":"quad"},"transform":[{"filter":"datum.p=='G' && datum.q=='Q3'"}],"mark":{"type":"text","align":"right","baseline":"alphabetic","fontSize":8,"lineHeight":12,"lineBreak":"\n","color":"#333"},"encoding":{"x":{"datum":5.13},"y":{"datum":0.59},"text":{"field":"t"}}},
{"data":{"name":"quad"},"transform":[{"filter":"datum.p=='G' && datum.q=='Q4'"}],"mark":{"type":"text","align":"left","baseline":"alphabetic","fontSize":8,"lineHeight":12,"lineBreak":"\n","color":"#333"},"encoding":{"x":{"datum":0.11},"y":{"datum":0.59},"text":{"field":"t"}}}
]}
],"spacing":31}
]
}
